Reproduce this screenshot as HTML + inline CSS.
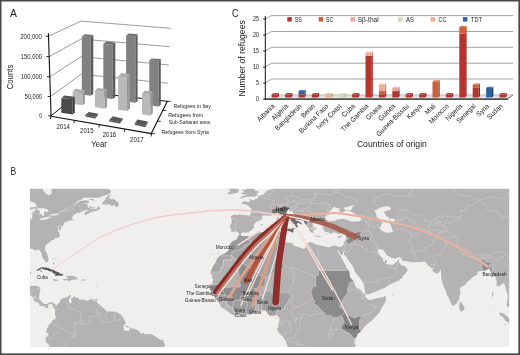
<!DOCTYPE html>
<html><head><meta charset="utf-8"><title>Figure</title>
<style>html,body{margin:0;padding:0;background:#fff;overflow:hidden}svg{display:block}</style>
</head><body>
<svg width="520" height="355" viewBox="0 0 520 355" font-family="'Liberation Sans', sans-serif">
<rect x="0" y="0" width="520" height="355" fill="#ffffff"/>
<defs>
<clipPath id="mapclip"><rect x="30.0" y="188.7" width="479.2" height="158.3"/></clipPath>
<clipPath id="landclip">
<polygon points="273.0,188.8 273.0,172.6 524.0,172.6 524.0,306.2 509.4,308.0 507.6,306.5 506.8,306.0 506.7,303.7 507.3,301.1 507.6,298.5 507.9,296.0 507.5,294.4 506.3,290.8 505.5,287.7 505.0,284.4 503.5,283.1 503.0,283.4 501.7,284.4 499.1,286.3 497.3,286.1 496.3,285.7 496.8,281.8 496.0,278.5 494.5,275.9 493.0,275.0 490.6,271.8 490.1,269.5 488.6,268.5 487.6,269.2 486.0,270.3 484.2,270.8 482.4,271.3 480.9,271.0 479.8,271.0 477.8,271.8 477.3,273.9 477.0,274.8 474.8,275.9 472.4,277.3 470.3,279.5 468.3,281.3 465.7,283.2 465.7,284.4 462.9,285.9 460.6,287.2 459.9,289.3 460.6,293.1 460.1,294.7 459.4,296.2 459.4,300.3 458.0,300.3 457.1,302.6 458.0,303.0 457.0,303.3 455.2,304.3 454.4,305.5 453.5,306.0 451.8,305.0 450.8,303.2 450.2,301.2 448.9,297.9 447.5,296.0 446.6,293.6 445.7,290.8 443.9,287.2 442.6,283.1 441.7,279.8 441.4,278.1 441.0,275.4 441.4,273.3 440.8,272.6 441.0,271.0 440.5,269.6 439.8,270.9 438.5,272.8 436.7,273.6 435.0,273.1 433.1,271.2 431.4,269.6 433.1,269.2 434.9,267.8 432.4,268.2 430.2,266.9 429.5,265.9 427.7,265.4 426.9,263.8 426.3,263.1 425.1,261.5 422.5,261.8 420.2,262.0 417.4,261.9 414.3,262.3 412.3,262.3 409.9,261.8 407.1,261.5 405.3,261.1 402.7,260.9 401.5,259.2 400.7,257.4 398.9,257.0 397.1,257.9 395.3,258.6 391.7,257.9 389.4,256.4 386.6,255.2 384.9,252.4 383.2,249.7 381.7,249.4 379.9,248.8 378.6,249.8 377.4,251.1 378.1,252.5 378.8,253.8 379.7,255.6 381.8,257.4 383.0,258.8 383.2,261.0 384.1,262.0 384.8,263.2 384.6,261.3 385.1,260.0 385.9,259.6 386.8,260.8 386.8,262.8 386.0,263.7 386.8,264.6 389.4,264.6 392.0,264.9 394.0,264.0 396.3,261.9 398.0,260.5 398.6,259.3 399.3,259.2 399.0,262.3 400.0,264.2 402.2,265.6 404.7,266.1 406.3,268.2 407.9,269.0 406.9,271.3 404.8,274.4 402.7,275.7 402.5,278.1 400.2,279.0 398.9,280.7 396.3,281.6 393.2,283.1 390.7,284.0 388.4,285.2 385.3,287.5 380.4,289.5 377.6,290.8 375.0,292.1 371.4,292.9 369.8,293.9 367.3,294.3 365.9,294.3 365.4,292.6 364.7,290.8 364.6,288.8 363.9,284.7 363.6,283.4 361.6,280.5 359.8,277.7 357.5,274.9 354.8,271.5 354.2,269.0 352.0,264.9 349.8,262.3 347.9,259.3 345.7,256.1 343.9,254.7 344.1,251.0 343.9,251.0 342.7,254.1 342.2,255.6 340.6,254.3 339.4,252.5 338.0,249.8 337.3,250.7 338.1,252.4 339.3,253.9 341.2,256.9 341.5,258.1 342.4,259.7 343.9,262.4 345.4,265.1 346.2,265.4 345.7,267.2 348.4,269.7 349.3,272.3 349.9,276.4 350.2,277.7 351.9,279.5 353.4,280.5 354.7,284.4 355.6,286.7 356.5,287.5 357.3,288.0 359.3,289.0 361.1,290.8 363.2,292.9 364.1,293.4 365.5,294.8 365.6,296.1 363.7,297.1 365.1,297.0 366.0,297.6 367.8,299.6 369.8,299.9 373.7,299.2 376.3,298.3 378.1,298.1 380.6,297.8 383.5,297.0 384.6,296.0 386.0,296.4 385.5,298.5 386.3,299.9 385.0,302.4 383.7,304.7 382.3,306.4 380.9,309.3 379.0,313.1 377.0,315.2 375.5,316.5 372.9,319.6 370.7,321.5 369.2,322.4 366.3,325.0 363.6,327.7 361.9,329.9 361.1,331.0 359.3,332.7 357.5,333.7 357.3,335.0 356.1,337.2 354.9,338.9 354.7,339.9 354.2,341.7 354.0,343.4 355.2,344.3 355.7,347.1 356.0,352.5 288.4,352.5 287.9,347.0 287.2,345.4 285.9,342.5 285.6,341.1 284.7,339.1 283.0,337.1 281.6,335.5 278.9,333.0 277.8,330.9 276.7,328.6 278.1,327.8 278.5,325.8 278.2,324.2 279.3,322.0 279.6,319.2 278.7,316.8 277.8,316.5 277.1,315.2 275.5,315.1 273.7,315.4 272.2,315.6 270.3,315.7 268.6,314.7 267.3,312.7 265.8,310.6 262.9,310.3 260.5,310.5 257.4,311.0 256.6,311.9 253.7,312.5 251.0,313.7 249.7,314.2 248.8,314.6 246.2,313.7 243.9,313.3 241.3,313.6 238.5,314.1 237.1,314.6 235.3,315.4 234.4,315.6 230.9,313.9 228.4,311.7 226.4,310.6 225.0,309.5 222.1,307.8 220.9,306.5 220.1,305.0 220.0,303.7 219.0,302.4 217.1,300.6 216.2,299.0 215.5,298.5 214.1,296.3 212.3,296.1 211.3,295.1 211.2,293.6 211.5,292.2 211.2,291.1 210.9,290.4 210.1,289.3 209.2,289.0 210.3,288.4 211.0,286.7 211.8,285.7 212.3,283.1 213.1,280.3 211.8,276.9 212.4,274.9 210.8,273.9 210.4,273.3 210.6,272.1 212.1,269.0 213.2,265.9 215.6,262.8 216.9,259.6 219.5,256.1 220.9,255.0 224.6,253.8 228.0,251.2 229.4,248.7 228.8,248.1 229.0,245.8 230.4,243.8 232.4,241.3 234.7,240.4 236.6,239.4 238.4,236.3 239.0,234.8 240.6,234.5 240.8,235.6 242.6,236.3 244.2,236.2 246.6,236.1 248.5,236.6 250.9,236.1 252.5,235.1 254.5,234.4 257.5,233.0 260.1,232.6 262.0,232.3 264.2,232.0 267.3,232.4 269.0,232.1 270.8,231.5 271.9,232.0 274.1,232.0 276.7,231.8 279.5,230.9 280.7,232.1 282.6,231.5 281.4,233.3 281.6,234.7 282.6,235.6 281.8,237.5 280.2,239.7 282.2,240.4 282.7,241.0 283.9,241.6 286.1,242.4 288.1,242.2 291.0,243.1 293.0,243.5 293.8,245.8 296.9,246.6 300.5,247.8 303.5,249.1 305.6,247.6 305.7,244.3 307.9,242.8 310.0,242.2 312.4,242.6 313.8,243.8 315.9,244.4 318.7,245.2 320.8,245.6 324.2,246.2 328.6,247.6 331.0,246.6 332.3,246.0 334.1,245.6 336.1,245.8 337.2,246.4 339.0,246.9 341.1,246.7 342.7,245.8 343.5,244.4 344.1,242.5 344.7,241.3 345.4,239.7 346.3,238.3 346.4,237.1 346.2,235.5 346.6,234.1 347.2,232.7 346.7,232.0 345.4,232.7 343.1,232.2 341.5,233.5 338.6,234.2 336.4,232.9 333.1,232.0 332.7,233.3 331.7,233.6 330.4,233.8 329.0,232.7 326.9,232.1 324.7,231.6 324.2,230.8 324.2,229.5 321.8,228.4 323.6,228.0 323.2,227.5 323.3,226.4 322.8,225.8 323.5,225.1 321.2,225.3 321.5,224.0 321.5,223.8 323.2,222.5 321.1,222.1 320.7,221.8 318.4,221.6 316.9,221.6 315.2,222.1 316.9,223.7 315.6,223.1 315.8,224.1 314.6,223.4 314.3,224.1 313.3,223.1 313.1,222.4 312.3,223.0 312.4,224.0 313.2,225.4 314.1,226.2 313.2,225.8 312.8,226.6 312.2,226.9 314.1,227.7 315.1,228.4 315.9,228.8 316.0,230.0 314.9,229.3 313.3,229.3 313.8,230.2 314.5,230.8 312.8,230.2 313.1,231.7 313.8,233.2 312.2,232.4 312.0,233.3 311.0,231.7 310.4,232.4 309.9,231.1 308.7,229.5 309.2,228.6 310.2,228.4 311.8,228.6 313.2,229.2 313.1,228.6 311.8,228.1 310.2,228.2 309.3,228.2 308.4,227.8 307.5,226.7 306.6,225.9 306.1,225.0 305.6,224.3 304.3,222.8 304.1,221.7 304.2,220.6 304.5,219.4 303.5,219.1 301.9,217.8 300.7,217.2 298.9,216.3 296.4,215.0 295.1,214.4 293.3,213.4 292.5,211.9 292.5,211.2 291.3,210.3 290.7,210.9 289.9,211.7 289.2,210.9 288.9,209.9 289.6,209.5 289.0,209.1 287.9,209.4 285.9,210.0 285.8,210.6 286.5,211.3 285.8,212.6 286.5,213.5 288.9,214.7 289.8,216.3 290.7,217.7 292.8,218.9 294.3,219.0 295.8,219.2 295.1,219.8 296.0,220.6 297.6,221.1 300.3,222.3 301.7,223.6 301.4,224.5 300.4,223.9 299.4,223.2 298.5,222.8 297.4,223.1 296.6,224.7 298.4,226.5 296.9,227.0 296.8,228.0 295.4,229.3 294.4,228.9 294.9,227.5 295.9,226.8 295.4,225.7 294.8,224.5 294.4,223.8 293.5,223.9 292.7,223.1 292.2,222.3 291.0,222.5 290.8,221.9 289.1,220.9 287.7,220.8 286.6,220.3 285.6,219.5 284.5,218.6 282.7,217.9 281.2,216.5 280.7,214.9 279.5,213.5 277.2,212.7 276.0,212.9 274.8,214.0 273.7,214.3 272.9,214.5 271.3,215.6 269.4,216.0 268.0,215.5 266.3,215.4 263.7,215.3 262.2,216.0 262.0,217.1 262.7,218.0 262.4,219.1 259.8,220.5 257.4,221.2 256.4,222.1 254.2,224.1 253.4,225.4 254.8,227.3 253.0,228.3 252.4,230.1 250.1,230.7 248.5,232.4 245.2,232.4 242.8,232.4 241.7,233.0 240.5,233.9 239.8,234.3 238.0,232.9 237.8,232.2 236.3,231.2 233.8,231.7 231.1,231.7 231.4,229.3 230.5,228.1 229.8,227.1 230.1,225.6 231.4,223.6 231.9,221.0 231.5,219.6 231.5,218.3 230.4,216.5 232.6,215.3 234.5,214.3 236.1,214.9 239.2,214.6 241.9,215.1 244.4,215.1 246.4,215.3 249.1,215.5 250.2,215.1 251.0,212.0 251.1,209.9 251.2,208.2 249.6,207.3 248.5,206.0 248.0,205.2 246.2,204.7 245.5,204.2 243.0,204.0 242.0,203.4 241.9,202.6 243.9,201.6 245.3,201.3 247.2,202.1 249.1,201.8 250.3,201.8 250.1,201.3 249.2,199.0 250.9,199.1 251.4,199.9 253.6,200.2 254.5,199.6 257.0,198.5 258.3,197.8 258.3,196.4 258.3,196.1 259.0,195.8 260.3,195.6 261.7,195.1 262.9,194.7 264.5,194.6 263.7,193.8 264.8,193.2 265.9,192.0 266.4,190.7 267.3,191.2 268.1,190.1 270.1,189.5 271.8,189.4 272.4,189.7 272.6,189.0"/>
<polygon points="228.8,188.8 228.8,182.9 238.3,182.9 238.3,188.8 238.5,189.7 238.8,190.7 237.8,192.7 234.9,193.2 232.9,193.7 229.0,194.6 227.6,193.4 227.3,192.9 229.3,192.4 228.7,191.7 231.1,191.5 229.8,190.6 230.9,189.9 228.0,189.6"/>
<polygon points="246.5,188.8 246.5,182.9 253.7,182.9 253.7,188.8 254.5,189.1 255.1,190.2 254.4,190.8 255.1,191.1 255.5,190.7 257.5,190.8 258.7,191.9 257.5,193.3 256.5,193.8 256.0,194.5 257.9,194.8 257.7,195.4 256.7,195.9 254.8,196.4 252.2,196.4 250.9,196.8 249.2,196.6 247.9,197.0 246.5,196.5 245.5,196.8 244.8,197.7 243.5,197.4 240.8,198.4 239.6,198.1 241.5,196.9 242.6,195.7 245.2,195.2 246.5,194.9 247.3,194.2 246.1,194.6 243.4,194.3 241.1,194.1 240.6,193.4 242.1,192.9 243.7,192.1 243.7,191.1 242.0,191.1 243.1,190.3 242.4,189.8 244.3,189.7 246.4,189.6"/>
<polygon points="286.3,229.1 288.5,228.8 290.2,229.1 293.3,228.6 294.2,228.6 293.5,229.5 293.0,230.4 293.5,231.5 293.1,232.5 292.4,232.4 290.8,231.5 289.0,231.0 287.8,230.4 286.5,230.0 286.1,229.7"/>
<polygon points="275.4,221.6 276.3,221.8 277.8,220.8 278.7,221.6 279.4,222.6 279.0,223.5 279.1,224.2 278.9,225.8 278.7,226.3 277.6,226.1 276.9,226.9 275.8,226.6 275.9,224.6 276.0,223.2 275.2,222.5"/>
<polygon points="278.4,216.3 278.5,217.1 278.7,218.6 278.1,219.9 277.8,220.5 276.8,219.8 276.4,219.1 276.3,218.2 276.7,217.4 278.1,217.1 278.2,216.4"/>
<polygon points="314.8,235.3 315.9,235.5 317.1,235.9 318.8,236.0 320.3,236.3 321.3,236.3 321.8,236.1 321.7,236.6 320.3,236.9 317.8,237.0 315.1,236.3 314.6,236.2"/>
<polygon points="337.1,236.6 339.8,236.0 343.1,235.1 341.5,236.5 341.8,237.0 340.6,237.1 339.0,238.0 337.5,237.5"/>
<polygon points="260.2,225.0 262.2,224.1 263.1,224.8 262.2,225.8 261.1,225.3 260.4,225.3"/>
<polygon points="460.3,301.5 462.9,304.8 464.2,307.0 464.6,309.1 462.7,311.1 461.3,311.6 460.4,311.3 459.4,309.0 459.3,306.2 459.5,303.7 459.8,301.9"/>
<polygon points="499.1,312.5 503.9,313.4 506.1,315.5 507.9,317.0 509.7,318.6 524.0,326.8 524.0,342.2 521.5,341.7 517.1,337.1 513.5,332.5 512.0,329.1 510.2,326.3 508.1,322.3 505.5,320.9 503.2,317.5 501.2,316.1 499.4,314.2"/>
<polygon points="391.2,294.5 394.3,294.4 394.0,295.1 391.7,295.2"/>
<polygon points="492.4,291.8 493.3,292.4 493.2,296.0 492.6,297.2 492.2,295.4"/>
<polygon points="491.7,298.8 492.2,299.0 492.1,299.8 491.5,299.7"/>
<polygon points="495.0,308.3 495.7,308.8 495.4,309.5 494.9,309.1"/>
<polygon points="503.7,323.2 505.8,324.5 505.3,325.3 503.7,324.0"/>
<polygon points="500.4,319.6 501.9,320.4 501.7,320.8 500.3,319.9"/>
<polygon points="354.9,341.6 355.8,342.5 355.5,343.4 354.9,342.7"/>
<polygon points="356.1,339.4 356.6,340.2 356.2,340.8"/>
<polygon points="276.3,317.2 277.2,317.5 276.6,318.4 275.9,317.9"/>
<polygon points="313.3,226.7 314.9,227.2 316.4,228.6 317.4,229.1 316.1,227.6 314.3,226.6"/>
<polygon points="320.8,225.8 322.3,225.7 322.4,226.4 321.0,226.3"/>
<polygon points="320.8,227.7 321.4,227.9 321.3,228.6 320.8,228.5"/>
<polygon points="325.5,233.9 326.7,233.1 326.4,234.2 325.6,234.5"/>
<polygon points="10.1,172.6 42.7,172.6 42.7,185.5 42.9,189.3 43.5,191.1 45.3,192.9 47.1,194.4 49.1,195.2 50.7,194.2 51.7,192.4 51.4,189.3 51.2,185.5 51.2,172.6 108.2,172.6 107.7,188.0 108.0,188.8 110.5,190.6 110.8,192.4 108.7,194.2 107.5,194.7 103.3,195.7 100.0,197.5 95.4,197.8 89.7,197.5 83.6,197.8 81.0,200.1 78.9,200.4 75.1,203.2 72.8,205.5 71.2,206.5 73.5,205.2 75.6,203.7 78.2,202.3 80.7,201.1 85.9,200.2 89.2,201.3 88.9,202.4 87.2,203.3 83.6,203.4 85.6,204.3 87.9,204.0 87.2,205.8 88.4,208.1 90.2,208.3 92.3,209.2 94.9,208.8 96.4,209.5 96.7,208.1 98.5,206.3 99.1,206.0 99.7,208.1 100.4,208.7 97.4,210.4 93.6,211.4 90.7,212.2 88.4,213.5 85.6,215.3 84.3,214.2 85.1,212.2 87.4,210.9 88.9,210.3 87.4,209.7 84.3,210.5 82.0,211.4 78.9,212.9 77.4,212.7 75.6,214.0 73.8,214.6 72.5,216.3 72.8,217.2 71.7,218.0 72.6,219.0 73.0,219.5 74.3,219.4 73.8,218.7 74.4,219.1 74.4,219.7 72.8,220.0 71.5,220.1 70.4,220.5 68.9,220.7 66.8,220.8 65.0,221.4 67.1,221.6 69.5,221.3 67.6,221.9 65.3,222.5 64.0,222.5 64.0,222.8 63.8,224.5 63.0,225.7 61.6,226.7 60.7,225.8 60.0,225.2 60.4,226.3 61.2,227.1 61.3,228.4 60.6,229.4 59.7,230.4 59.0,231.5 58.9,229.4 58.5,227.6 58.6,225.8 58.9,225.2 57.6,226.1 57.7,227.9 58.1,229.1 58.0,230.7 58.1,231.7 58.9,232.0 59.5,233.8 60.2,236.2 58.9,237.1 57.6,237.9 55.5,238.1 53.9,239.8 51.4,240.2 50.4,241.7 48.9,242.8 47.3,243.8 46.3,244.6 45.3,246.6 45.0,248.9 45.5,250.7 47.2,253.7 47.8,256.1 48.5,258.2 48.3,260.5 47.6,262.0 45.8,262.3 44.0,259.7 42.9,257.9 41.7,255.6 41.4,252.5 40.8,252.0 39.6,250.2 38.3,249.4 36.8,250.2 34.9,250.5 34.0,249.4 31.9,248.7 30.1,248.8 28.0,248.9 10.1,249.7"/>
<polygon points="111.6,194.2 108.2,195.7 106.7,197.0 105.4,199.1 104.4,200.6 102.6,202.2 101.8,204.5 106.4,204.5 110.3,204.6 111.8,206.3 112.8,205.2 114.9,204.5 114.9,206.5 116.4,206.9 117.7,206.9 118.8,204.6 117.7,201.6 115.7,201.9 116.4,200.4 114.9,199.8 113.4,199.1 110.8,199.6 110.0,198.3 108.5,198.8 109.5,197.0 109.8,196.0 111.3,195.0"/>
<polygon points="88.4,198.7 92.5,199.1 95.6,200.6 93.3,200.6 90.0,199.8"/>
<polygon points="88.7,206.9 89.7,206.0 91.8,207.3 94.9,207.4 93.6,208.6 91.0,208.2"/>
<polygon points="10.1,285.7 27.5,285.7 28.6,285.9 30.1,286.2 33.2,285.8 35.8,285.8 37.8,286.2 39.6,287.5 40.5,288.2 39.9,290.8 39.5,293.4 39.0,296.0 39.1,298.8 40.9,301.1 42.9,302.9 44.5,304.1 46.0,304.2 47.6,303.4 48.9,302.8 51.2,302.3 53.7,302.9 55.3,304.6 56.6,306.2 57.3,304.4 58.9,302.9 59.9,302.1 60.2,300.1 62.0,298.4 63.5,297.9 65.8,297.8 66.8,297.1 68.6,296.1 70.1,294.8 71.2,295.2 71.0,296.5 69.3,298.3 70.2,298.7 68.9,301.1 70.2,303.4 71.7,301.9 71.0,299.3 72.2,298.0 73.8,297.2 74.3,295.4 74.9,297.2 78.2,298.0 79.4,299.8 82.3,299.6 84.5,299.6 86.6,300.8 87.9,300.7 89.2,299.9 90.0,299.4 93.1,299.3 95.1,299.2 93.3,300.3 94.3,301.1 97.4,302.1 97.7,303.7 100.0,305.0 100.5,305.5 103.6,308.0 104.8,309.3 107.2,311.4 110.3,311.6 112.3,311.5 115.4,311.8 118.0,312.8 119.8,314.1 121.8,315.7 123.1,317.8 124.9,321.1 125.8,322.9 124.4,325.0 123.0,326.7 124.2,328.1 123.6,329.4 125.7,330.9 128.3,330.7 129.6,330.5 129.8,327.6 127.0,327.2 124.9,326.5 125.7,325.5 129.8,327.3 130.8,328.6 133.4,328.6 136.0,329.6 138.6,330.7 139.8,332.2 140.3,333.7 142.7,333.0 145.0,333.9 146.9,334.3 150.1,334.0 152.7,334.8 155.3,336.4 158.3,338.6 160.4,339.8 163.1,339.9 163.7,341.7 164.4,343.5 164.8,345.0 164.6,347.5 164.2,352.5 51.2,352.5 50.1,347.1 48.7,344.5 46.4,342.2 45.6,341.7 45.8,339.9 45.2,338.8 46.3,337.1 47.3,335.8 48.3,335.3 48.9,333.2 47.8,333.5 46.0,332.5 46.8,329.2 47.3,327.7 48.5,326.5 48.6,325.0 49.5,324.3 51.7,322.2 52.7,320.1 55.0,319.3 56.1,316.8 55.2,315.5 54.9,312.7 55.3,310.1 54.0,308.3 52.7,306.1 53.0,305.2 51.2,303.8 49.9,303.8 47.6,305.7 48.6,307.5 47.6,308.3 45.9,308.3 45.5,307.0 44.2,306.2 42.9,305.7 41.1,306.2 39.1,305.2 39.6,304.3 37.9,302.6 36.3,301.4 35.5,302.3 33.6,300.3 34.0,298.8 33.4,297.9 31.6,296.2 30.1,294.7 29.1,293.6 10.1,292.1"/>
<polygon points="10.1,269.0 21.9,272.6 25.5,271.8 29.3,271.4 30.9,271.8 31.3,272.4 30.4,273.9 29.5,274.9 29.3,276.7 28.7,279.5 27.8,279.5 27.3,281.6 27.3,284.4 25.7,285.9 10.1,287.0"/>
<polygon points="35.9,270.6 37.5,269.4 40.4,267.8 42.4,267.3 44.6,267.6 47.3,267.8 49.4,268.6 50.4,269.2 53.0,269.5 54.8,270.8 55.8,271.2 58.9,272.4 59.9,273.5 62.0,273.9 63.6,274.8 63.2,275.3 61.1,275.7 59.3,275.5 56.6,275.7 54.4,275.8 55.8,274.4 54.0,273.6 52.5,272.8 51.9,271.4 49.9,271.2 48.6,270.9 47.4,270.1 45.5,270.0 43.5,269.2 41.4,268.6 39.9,269.7 38.3,270.5"/>
<polygon points="40.6,270.8 41.9,270.5 42.0,271.4 40.9,271.7"/>
<polygon points="52.8,279.6 54.0,279.3 56.6,279.5 58.4,280.5 56.6,280.9 55.8,281.3 53.7,280.5"/>
<polygon points="62.9,279.6 64.5,280.4 67.1,280.2 69.9,281.2 71.5,280.0 74.3,279.5 76.9,279.5 78.5,279.0 76.9,278.0 76.4,277.2 74.6,276.3 72.5,275.9 69.9,275.7 68.6,276.0 65.6,275.8 67.1,277.2 68.3,279.1 65.3,279.1 63.0,278.9"/>
<polygon points="81.5,279.3 85.5,279.4 85.1,280.5 81.5,280.7"/>
<polygon points="95.1,299.3 97.6,299.0 97.4,300.7 95.1,301.0"/>
</clipPath>
</defs>
<g clip-path="url(#mapclip)">
<rect x="30.0" y="188.7" width="479.2" height="158.3" fill="#f1eeee"/>
<polygon points="273.0,188.8 273.0,172.6 524.0,172.6 524.0,306.2 509.4,308.0 507.6,306.5 506.8,306.0 506.7,303.7 507.3,301.1 507.6,298.5 507.9,296.0 507.5,294.4 506.3,290.8 505.5,287.7 505.0,284.4 503.5,283.1 503.0,283.4 501.7,284.4 499.1,286.3 497.3,286.1 496.3,285.7 496.8,281.8 496.0,278.5 494.5,275.9 493.0,275.0 490.6,271.8 490.1,269.5 488.6,268.5 487.6,269.2 486.0,270.3 484.2,270.8 482.4,271.3 480.9,271.0 479.8,271.0 477.8,271.8 477.3,273.9 477.0,274.8 474.8,275.9 472.4,277.3 470.3,279.5 468.3,281.3 465.7,283.2 465.7,284.4 462.9,285.9 460.6,287.2 459.9,289.3 460.6,293.1 460.1,294.7 459.4,296.2 459.4,300.3 458.0,300.3 457.1,302.6 458.0,303.0 457.0,303.3 455.2,304.3 454.4,305.5 453.5,306.0 451.8,305.0 450.8,303.2 450.2,301.2 448.9,297.9 447.5,296.0 446.6,293.6 445.7,290.8 443.9,287.2 442.6,283.1 441.7,279.8 441.4,278.1 441.0,275.4 441.4,273.3 440.8,272.6 441.0,271.0 440.5,269.6 439.8,270.9 438.5,272.8 436.7,273.6 435.0,273.1 433.1,271.2 431.4,269.6 433.1,269.2 434.9,267.8 432.4,268.2 430.2,266.9 429.5,265.9 427.7,265.4 426.9,263.8 426.3,263.1 425.1,261.5 422.5,261.8 420.2,262.0 417.4,261.9 414.3,262.3 412.3,262.3 409.9,261.8 407.1,261.5 405.3,261.1 402.7,260.9 401.5,259.2 400.7,257.4 398.9,257.0 397.1,257.9 395.3,258.6 391.7,257.9 389.4,256.4 386.6,255.2 384.9,252.4 383.2,249.7 381.7,249.4 379.9,248.8 378.6,249.8 377.4,251.1 378.1,252.5 378.8,253.8 379.7,255.6 381.8,257.4 383.0,258.8 383.2,261.0 384.1,262.0 384.8,263.2 384.6,261.3 385.1,260.0 385.9,259.6 386.8,260.8 386.8,262.8 386.0,263.7 386.8,264.6 389.4,264.6 392.0,264.9 394.0,264.0 396.3,261.9 398.0,260.5 398.6,259.3 399.3,259.2 399.0,262.3 400.0,264.2 402.2,265.6 404.7,266.1 406.3,268.2 407.9,269.0 406.9,271.3 404.8,274.4 402.7,275.7 402.5,278.1 400.2,279.0 398.9,280.7 396.3,281.6 393.2,283.1 390.7,284.0 388.4,285.2 385.3,287.5 380.4,289.5 377.6,290.8 375.0,292.1 371.4,292.9 369.8,293.9 367.3,294.3 365.9,294.3 365.4,292.6 364.7,290.8 364.6,288.8 363.9,284.7 363.6,283.4 361.6,280.5 359.8,277.7 357.5,274.9 354.8,271.5 354.2,269.0 352.0,264.9 349.8,262.3 347.9,259.3 345.7,256.1 343.9,254.7 344.1,251.0 343.9,251.0 342.7,254.1 342.2,255.6 340.6,254.3 339.4,252.5 338.0,249.8 337.3,250.7 338.1,252.4 339.3,253.9 341.2,256.9 341.5,258.1 342.4,259.7 343.9,262.4 345.4,265.1 346.2,265.4 345.7,267.2 348.4,269.7 349.3,272.3 349.9,276.4 350.2,277.7 351.9,279.5 353.4,280.5 354.7,284.4 355.6,286.7 356.5,287.5 357.3,288.0 359.3,289.0 361.1,290.8 363.2,292.9 364.1,293.4 365.5,294.8 365.6,296.1 363.7,297.1 365.1,297.0 366.0,297.6 367.8,299.6 369.8,299.9 373.7,299.2 376.3,298.3 378.1,298.1 380.6,297.8 383.5,297.0 384.6,296.0 386.0,296.4 385.5,298.5 386.3,299.9 385.0,302.4 383.7,304.7 382.3,306.4 380.9,309.3 379.0,313.1 377.0,315.2 375.5,316.5 372.9,319.6 370.7,321.5 369.2,322.4 366.3,325.0 363.6,327.7 361.9,329.9 361.1,331.0 359.3,332.7 357.5,333.7 357.3,335.0 356.1,337.2 354.9,338.9 354.7,339.9 354.2,341.7 354.0,343.4 355.2,344.3 355.7,347.1 356.0,352.5 288.4,352.5 287.9,347.0 287.2,345.4 285.9,342.5 285.6,341.1 284.7,339.1 283.0,337.1 281.6,335.5 278.9,333.0 277.8,330.9 276.7,328.6 278.1,327.8 278.5,325.8 278.2,324.2 279.3,322.0 279.6,319.2 278.7,316.8 277.8,316.5 277.1,315.2 275.5,315.1 273.7,315.4 272.2,315.6 270.3,315.7 268.6,314.7 267.3,312.7 265.8,310.6 262.9,310.3 260.5,310.5 257.4,311.0 256.6,311.9 253.7,312.5 251.0,313.7 249.7,314.2 248.8,314.6 246.2,313.7 243.9,313.3 241.3,313.6 238.5,314.1 237.1,314.6 235.3,315.4 234.4,315.6 230.9,313.9 228.4,311.7 226.4,310.6 225.0,309.5 222.1,307.8 220.9,306.5 220.1,305.0 220.0,303.7 219.0,302.4 217.1,300.6 216.2,299.0 215.5,298.5 214.1,296.3 212.3,296.1 211.3,295.1 211.2,293.6 211.5,292.2 211.2,291.1 210.9,290.4 210.1,289.3 209.2,289.0 210.3,288.4 211.0,286.7 211.8,285.7 212.3,283.1 213.1,280.3 211.8,276.9 212.4,274.9 210.8,273.9 210.4,273.3 210.6,272.1 212.1,269.0 213.2,265.9 215.6,262.8 216.9,259.6 219.5,256.1 220.9,255.0 224.6,253.8 228.0,251.2 229.4,248.7 228.8,248.1 229.0,245.8 230.4,243.8 232.4,241.3 234.7,240.4 236.6,239.4 238.4,236.3 239.0,234.8 240.6,234.5 240.8,235.6 242.6,236.3 244.2,236.2 246.6,236.1 248.5,236.6 250.9,236.1 252.5,235.1 254.5,234.4 257.5,233.0 260.1,232.6 262.0,232.3 264.2,232.0 267.3,232.4 269.0,232.1 270.8,231.5 271.9,232.0 274.1,232.0 276.7,231.8 279.5,230.9 280.7,232.1 282.6,231.5 281.4,233.3 281.6,234.7 282.6,235.6 281.8,237.5 280.2,239.7 282.2,240.4 282.7,241.0 283.9,241.6 286.1,242.4 288.1,242.2 291.0,243.1 293.0,243.5 293.8,245.8 296.9,246.6 300.5,247.8 303.5,249.1 305.6,247.6 305.7,244.3 307.9,242.8 310.0,242.2 312.4,242.6 313.8,243.8 315.9,244.4 318.7,245.2 320.8,245.6 324.2,246.2 328.6,247.6 331.0,246.6 332.3,246.0 334.1,245.6 336.1,245.8 337.2,246.4 339.0,246.9 341.1,246.7 342.7,245.8 343.5,244.4 344.1,242.5 344.7,241.3 345.4,239.7 346.3,238.3 346.4,237.1 346.2,235.5 346.6,234.1 347.2,232.7 346.7,232.0 345.4,232.7 343.1,232.2 341.5,233.5 338.6,234.2 336.4,232.9 333.1,232.0 332.7,233.3 331.7,233.6 330.4,233.8 329.0,232.7 326.9,232.1 324.7,231.6 324.2,230.8 324.2,229.5 321.8,228.4 323.6,228.0 323.2,227.5 323.3,226.4 322.8,225.8 323.5,225.1 321.2,225.3 321.5,224.0 321.5,223.8 323.2,222.5 321.1,222.1 320.7,221.8 318.4,221.6 316.9,221.6 315.2,222.1 316.9,223.7 315.6,223.1 315.8,224.1 314.6,223.4 314.3,224.1 313.3,223.1 313.1,222.4 312.3,223.0 312.4,224.0 313.2,225.4 314.1,226.2 313.2,225.8 312.8,226.6 312.2,226.9 314.1,227.7 315.1,228.4 315.9,228.8 316.0,230.0 314.9,229.3 313.3,229.3 313.8,230.2 314.5,230.8 312.8,230.2 313.1,231.7 313.8,233.2 312.2,232.4 312.0,233.3 311.0,231.7 310.4,232.4 309.9,231.1 308.7,229.5 309.2,228.6 310.2,228.4 311.8,228.6 313.2,229.2 313.1,228.6 311.8,228.1 310.2,228.2 309.3,228.2 308.4,227.8 307.5,226.7 306.6,225.9 306.1,225.0 305.6,224.3 304.3,222.8 304.1,221.7 304.2,220.6 304.5,219.4 303.5,219.1 301.9,217.8 300.7,217.2 298.9,216.3 296.4,215.0 295.1,214.4 293.3,213.4 292.5,211.9 292.5,211.2 291.3,210.3 290.7,210.9 289.9,211.7 289.2,210.9 288.9,209.9 289.6,209.5 289.0,209.1 287.9,209.4 285.9,210.0 285.8,210.6 286.5,211.3 285.8,212.6 286.5,213.5 288.9,214.7 289.8,216.3 290.7,217.7 292.8,218.9 294.3,219.0 295.8,219.2 295.1,219.8 296.0,220.6 297.6,221.1 300.3,222.3 301.7,223.6 301.4,224.5 300.4,223.9 299.4,223.2 298.5,222.8 297.4,223.1 296.6,224.7 298.4,226.5 296.9,227.0 296.8,228.0 295.4,229.3 294.4,228.9 294.9,227.5 295.9,226.8 295.4,225.7 294.8,224.5 294.4,223.8 293.5,223.9 292.7,223.1 292.2,222.3 291.0,222.5 290.8,221.9 289.1,220.9 287.7,220.8 286.6,220.3 285.6,219.5 284.5,218.6 282.7,217.9 281.2,216.5 280.7,214.9 279.5,213.5 277.2,212.7 276.0,212.9 274.8,214.0 273.7,214.3 272.9,214.5 271.3,215.6 269.4,216.0 268.0,215.5 266.3,215.4 263.7,215.3 262.2,216.0 262.0,217.1 262.7,218.0 262.4,219.1 259.8,220.5 257.4,221.2 256.4,222.1 254.2,224.1 253.4,225.4 254.8,227.3 253.0,228.3 252.4,230.1 250.1,230.7 248.5,232.4 245.2,232.4 242.8,232.4 241.7,233.0 240.5,233.9 239.8,234.3 238.0,232.9 237.8,232.2 236.3,231.2 233.8,231.7 231.1,231.7 231.4,229.3 230.5,228.1 229.8,227.1 230.1,225.6 231.4,223.6 231.9,221.0 231.5,219.6 231.5,218.3 230.4,216.5 232.6,215.3 234.5,214.3 236.1,214.9 239.2,214.6 241.9,215.1 244.4,215.1 246.4,215.3 249.1,215.5 250.2,215.1 251.0,212.0 251.1,209.9 251.2,208.2 249.6,207.3 248.5,206.0 248.0,205.2 246.2,204.7 245.5,204.2 243.0,204.0 242.0,203.4 241.9,202.6 243.9,201.6 245.3,201.3 247.2,202.1 249.1,201.8 250.3,201.8 250.1,201.3 249.2,199.0 250.9,199.1 251.4,199.9 253.6,200.2 254.5,199.6 257.0,198.5 258.3,197.8 258.3,196.4 258.3,196.1 259.0,195.8 260.3,195.6 261.7,195.1 262.9,194.7 264.5,194.6 263.7,193.8 264.8,193.2 265.9,192.0 266.4,190.7 267.3,191.2 268.1,190.1 270.1,189.5 271.8,189.4 272.4,189.7 272.6,189.0" fill="#b4b2b2" />
<polygon points="228.8,188.8 228.8,182.9 238.3,182.9 238.3,188.8 238.5,189.7 238.8,190.7 237.8,192.7 234.9,193.2 232.9,193.7 229.0,194.6 227.6,193.4 227.3,192.9 229.3,192.4 228.7,191.7 231.1,191.5 229.8,190.6 230.9,189.9 228.0,189.6" fill="#b4b2b2" />
<polygon points="246.5,188.8 246.5,182.9 253.7,182.9 253.7,188.8 254.5,189.1 255.1,190.2 254.4,190.8 255.1,191.1 255.5,190.7 257.5,190.8 258.7,191.9 257.5,193.3 256.5,193.8 256.0,194.5 257.9,194.8 257.7,195.4 256.7,195.9 254.8,196.4 252.2,196.4 250.9,196.8 249.2,196.6 247.9,197.0 246.5,196.5 245.5,196.8 244.8,197.7 243.5,197.4 240.8,198.4 239.6,198.1 241.5,196.9 242.6,195.7 245.2,195.2 246.5,194.9 247.3,194.2 246.1,194.6 243.4,194.3 241.1,194.1 240.6,193.4 242.1,192.9 243.7,192.1 243.7,191.1 242.0,191.1 243.1,190.3 242.4,189.8 244.3,189.7 246.4,189.6" fill="#b4b2b2" />
<polygon points="286.3,229.1 288.5,228.8 290.2,229.1 293.3,228.6 294.2,228.6 293.5,229.5 293.0,230.4 293.5,231.5 293.1,232.5 292.4,232.4 290.8,231.5 289.0,231.0 287.8,230.4 286.5,230.0 286.1,229.7" fill="#6f6f6f" />
<polygon points="275.4,221.6 276.3,221.8 277.8,220.8 278.7,221.6 279.4,222.6 279.0,223.5 279.1,224.2 278.9,225.8 278.7,226.3 277.6,226.1 276.9,226.9 275.8,226.6 275.9,224.6 276.0,223.2 275.2,222.5" fill="#6f6f6f" />
<polygon points="278.4,216.3 278.5,217.1 278.7,218.6 278.1,219.9 277.8,220.5 276.8,219.8 276.4,219.1 276.3,218.2 276.7,217.4 278.1,217.1 278.2,216.4" fill="#b4b2b2" />
<polygon points="314.8,235.3 315.9,235.5 317.1,235.9 318.8,236.0 320.3,236.3 321.3,236.3 321.8,236.1 321.7,236.6 320.3,236.9 317.8,237.0 315.1,236.3 314.6,236.2" fill="#b4b2b2" />
<polygon points="337.1,236.6 339.8,236.0 343.1,235.1 341.5,236.5 341.8,237.0 340.6,237.1 339.0,238.0 337.5,237.5" fill="#b4b2b2" />
<polygon points="260.2,225.0 262.2,224.1 263.1,224.8 262.2,225.8 261.1,225.3 260.4,225.3" fill="#b4b2b2" />
<polygon points="460.3,301.5 462.9,304.8 464.2,307.0 464.6,309.1 462.7,311.1 461.3,311.6 460.4,311.3 459.4,309.0 459.3,306.2 459.5,303.7 459.8,301.9" fill="#b4b2b2" />
<polygon points="499.1,312.5 503.9,313.4 506.1,315.5 507.9,317.0 509.7,318.6 524.0,326.8 524.0,342.2 521.5,341.7 517.1,337.1 513.5,332.5 512.0,329.1 510.2,326.3 508.1,322.3 505.5,320.9 503.2,317.5 501.2,316.1 499.4,314.2" fill="#b4b2b2" />
<polygon points="391.2,294.5 394.3,294.4 394.0,295.1 391.7,295.2" fill="#b4b2b2" />
<polygon points="492.4,291.8 493.3,292.4 493.2,296.0 492.6,297.2 492.2,295.4" fill="#b4b2b2" />
<polygon points="491.7,298.8 492.2,299.0 492.1,299.8 491.5,299.7" fill="#b4b2b2" />
<polygon points="495.0,308.3 495.7,308.8 495.4,309.5 494.9,309.1" fill="#b4b2b2" />
<polygon points="503.7,323.2 505.8,324.5 505.3,325.3 503.7,324.0" fill="#b4b2b2" />
<polygon points="500.4,319.6 501.9,320.4 501.7,320.8 500.3,319.9" fill="#b4b2b2" />
<polygon points="354.9,341.6 355.8,342.5 355.5,343.4 354.9,342.7" fill="#b4b2b2" />
<polygon points="356.1,339.4 356.6,340.2 356.2,340.8" fill="#b4b2b2" />
<polygon points="276.3,317.2 277.2,317.5 276.6,318.4 275.9,317.9" fill="#b4b2b2" />
<polygon points="313.3,226.7 314.9,227.2 316.4,228.6 317.4,229.1 316.1,227.6 314.3,226.6" fill="#b4b2b2" />
<polygon points="320.8,225.8 322.3,225.7 322.4,226.4 321.0,226.3" fill="#b4b2b2" />
<polygon points="320.8,227.7 321.4,227.9 321.3,228.6 320.8,228.5" fill="#b4b2b2" />
<polygon points="325.5,233.9 326.7,233.1 326.4,234.2 325.6,234.5" fill="#b4b2b2" />
<polygon points="10.1,172.6 42.7,172.6 42.7,185.5 42.9,189.3 43.5,191.1 45.3,192.9 47.1,194.4 49.1,195.2 50.7,194.2 51.7,192.4 51.4,189.3 51.2,185.5 51.2,172.6 108.2,172.6 107.7,188.0 108.0,188.8 110.5,190.6 110.8,192.4 108.7,194.2 107.5,194.7 103.3,195.7 100.0,197.5 95.4,197.8 89.7,197.5 83.6,197.8 81.0,200.1 78.9,200.4 75.1,203.2 72.8,205.5 71.2,206.5 73.5,205.2 75.6,203.7 78.2,202.3 80.7,201.1 85.9,200.2 89.2,201.3 88.9,202.4 87.2,203.3 83.6,203.4 85.6,204.3 87.9,204.0 87.2,205.8 88.4,208.1 90.2,208.3 92.3,209.2 94.9,208.8 96.4,209.5 96.7,208.1 98.5,206.3 99.1,206.0 99.7,208.1 100.4,208.7 97.4,210.4 93.6,211.4 90.7,212.2 88.4,213.5 85.6,215.3 84.3,214.2 85.1,212.2 87.4,210.9 88.9,210.3 87.4,209.7 84.3,210.5 82.0,211.4 78.9,212.9 77.4,212.7 75.6,214.0 73.8,214.6 72.5,216.3 72.8,217.2 71.7,218.0 72.6,219.0 73.0,219.5 74.3,219.4 73.8,218.7 74.4,219.1 74.4,219.7 72.8,220.0 71.5,220.1 70.4,220.5 68.9,220.7 66.8,220.8 65.0,221.4 67.1,221.6 69.5,221.3 67.6,221.9 65.3,222.5 64.0,222.5 64.0,222.8 63.8,224.5 63.0,225.7 61.6,226.7 60.7,225.8 60.0,225.2 60.4,226.3 61.2,227.1 61.3,228.4 60.6,229.4 59.7,230.4 59.0,231.5 58.9,229.4 58.5,227.6 58.6,225.8 58.9,225.2 57.6,226.1 57.7,227.9 58.1,229.1 58.0,230.7 58.1,231.7 58.9,232.0 59.5,233.8 60.2,236.2 58.9,237.1 57.6,237.9 55.5,238.1 53.9,239.8 51.4,240.2 50.4,241.7 48.9,242.8 47.3,243.8 46.3,244.6 45.3,246.6 45.0,248.9 45.5,250.7 47.2,253.7 47.8,256.1 48.5,258.2 48.3,260.5 47.6,262.0 45.8,262.3 44.0,259.7 42.9,257.9 41.7,255.6 41.4,252.5 40.8,252.0 39.6,250.2 38.3,249.4 36.8,250.2 34.9,250.5 34.0,249.4 31.9,248.7 30.1,248.8 28.0,248.9 10.1,249.7" fill="#b4b2b2" />
<polygon points="111.6,194.2 108.2,195.7 106.7,197.0 105.4,199.1 104.4,200.6 102.6,202.2 101.8,204.5 106.4,204.5 110.3,204.6 111.8,206.3 112.8,205.2 114.9,204.5 114.9,206.5 116.4,206.9 117.7,206.9 118.8,204.6 117.7,201.6 115.7,201.9 116.4,200.4 114.9,199.8 113.4,199.1 110.8,199.6 110.0,198.3 108.5,198.8 109.5,197.0 109.8,196.0 111.3,195.0" fill="#b4b2b2" />
<polygon points="88.4,198.7 92.5,199.1 95.6,200.6 93.3,200.6 90.0,199.8" fill="#b4b2b2" />
<polygon points="88.7,206.9 89.7,206.0 91.8,207.3 94.9,207.4 93.6,208.6 91.0,208.2" fill="#b4b2b2" />
<polygon points="10.1,285.7 27.5,285.7 28.6,285.9 30.1,286.2 33.2,285.8 35.8,285.8 37.8,286.2 39.6,287.5 40.5,288.2 39.9,290.8 39.5,293.4 39.0,296.0 39.1,298.8 40.9,301.1 42.9,302.9 44.5,304.1 46.0,304.2 47.6,303.4 48.9,302.8 51.2,302.3 53.7,302.9 55.3,304.6 56.6,306.2 57.3,304.4 58.9,302.9 59.9,302.1 60.2,300.1 62.0,298.4 63.5,297.9 65.8,297.8 66.8,297.1 68.6,296.1 70.1,294.8 71.2,295.2 71.0,296.5 69.3,298.3 70.2,298.7 68.9,301.1 70.2,303.4 71.7,301.9 71.0,299.3 72.2,298.0 73.8,297.2 74.3,295.4 74.9,297.2 78.2,298.0 79.4,299.8 82.3,299.6 84.5,299.6 86.6,300.8 87.9,300.7 89.2,299.9 90.0,299.4 93.1,299.3 95.1,299.2 93.3,300.3 94.3,301.1 97.4,302.1 97.7,303.7 100.0,305.0 100.5,305.5 103.6,308.0 104.8,309.3 107.2,311.4 110.3,311.6 112.3,311.5 115.4,311.8 118.0,312.8 119.8,314.1 121.8,315.7 123.1,317.8 124.9,321.1 125.8,322.9 124.4,325.0 123.0,326.7 124.2,328.1 123.6,329.4 125.7,330.9 128.3,330.7 129.6,330.5 129.8,327.6 127.0,327.2 124.9,326.5 125.7,325.5 129.8,327.3 130.8,328.6 133.4,328.6 136.0,329.6 138.6,330.7 139.8,332.2 140.3,333.7 142.7,333.0 145.0,333.9 146.9,334.3 150.1,334.0 152.7,334.8 155.3,336.4 158.3,338.6 160.4,339.8 163.1,339.9 163.7,341.7 164.4,343.5 164.8,345.0 164.6,347.5 164.2,352.5 51.2,352.5 50.1,347.1 48.7,344.5 46.4,342.2 45.6,341.7 45.8,339.9 45.2,338.8 46.3,337.1 47.3,335.8 48.3,335.3 48.9,333.2 47.8,333.5 46.0,332.5 46.8,329.2 47.3,327.7 48.5,326.5 48.6,325.0 49.5,324.3 51.7,322.2 52.7,320.1 55.0,319.3 56.1,316.8 55.2,315.5 54.9,312.7 55.3,310.1 54.0,308.3 52.7,306.1 53.0,305.2 51.2,303.8 49.9,303.8 47.6,305.7 48.6,307.5 47.6,308.3 45.9,308.3 45.5,307.0 44.2,306.2 42.9,305.7 41.1,306.2 39.1,305.2 39.6,304.3 37.9,302.6 36.3,301.4 35.5,302.3 33.6,300.3 34.0,298.8 33.4,297.9 31.6,296.2 30.1,294.7 29.1,293.6 10.1,292.1" fill="#b4b2b2" />
<polygon points="10.1,269.0 21.9,272.6 25.5,271.8 29.3,271.4 30.9,271.8 31.3,272.4 30.4,273.9 29.5,274.9 29.3,276.7 28.7,279.5 27.8,279.5 27.3,281.6 27.3,284.4 25.7,285.9 10.1,287.0" fill="#b4b2b2" />
<polygon points="35.9,270.6 37.5,269.4 40.4,267.8 42.4,267.3 44.6,267.6 47.3,267.8 49.4,268.6 50.4,269.2 53.0,269.5 54.8,270.8 55.8,271.2 58.9,272.4 59.9,273.5 62.0,273.9 63.6,274.8 63.2,275.3 61.1,275.7 59.3,275.5 56.6,275.7 54.4,275.8 55.8,274.4 54.0,273.6 52.5,272.8 51.9,271.4 49.9,271.2 48.6,270.9 47.4,270.1 45.5,270.0 43.5,269.2 41.4,268.6 39.9,269.7 38.3,270.5" fill="#585858" />
<polygon points="40.6,270.8 41.9,270.5 42.0,271.4 40.9,271.7" fill="#585858" />
<polygon points="52.8,279.6 54.0,279.3 56.6,279.5 58.4,280.5 56.6,280.9 55.8,281.3 53.7,280.5" fill="#b4b2b2" />
<polygon points="62.9,279.6 64.5,280.4 67.1,280.2 69.9,281.2 71.5,280.0 74.3,279.5 76.9,279.5 78.5,279.0 76.9,278.0 76.4,277.2 74.6,276.3 72.5,275.9 69.9,275.7 68.6,276.0 65.6,275.8 67.1,277.2 68.3,279.1 65.3,279.1 63.0,278.9" fill="#b4b2b2" />
<polygon points="81.5,279.3 85.5,279.4 85.1,280.5 81.5,280.7" fill="#b4b2b2" />
<polygon points="95.1,299.3 97.6,299.0 97.4,300.7 95.1,301.0" fill="#b4b2b2" />
<polygon points="210.8,253.9 212.7,253.4 211.9,254.7" fill="#b4b2b2" />
<polygon points="213.6,254.7 214.6,254.6 214.4,255.5" fill="#b4b2b2" />
<polygon points="217.3,253.0 218.6,253.2 217.4,254.6" fill="#b4b2b2" />
<polygon points="218.6,251.8 219.6,251.9 218.9,252.7" fill="#b4b2b2" />
<polygon points="207.9,252.8 208.6,252.9 208.3,253.6" fill="#b4b2b2" />
<polygon points="193.2,287.5 193.9,287.9 193.5,288.5" fill="#b4b2b2" />
<polygon points="189.2,282.9 189.9,282.9 189.7,283.4" fill="#b4b2b2" />
<polygon points="191.4,288.2 191.7,288.5 191.4,288.8" fill="#b4b2b2" />
<polygon points="195.2,285.2 195.9,285.4 195.3,285.8" fill="#b4b2b2" />
<polygon points="53.2,262.0 54.3,262.3 54.5,264.6 53.2,264.3" fill="#b4b2b2" />
<polygon points="51.4,258.2 54.0,258.1 53.7,258.6 51.4,258.6" fill="#b4b2b2" />
<polygon points="55.3,257.7 56.3,258.7 56.1,260.0 55.5,259.0" fill="#b4b2b2" />
<polygon points="57.1,261.3 58.1,262.0 58.5,263.3 57.6,262.3" fill="#b4b2b2" />
<polygon points="60.7,266.1 61.4,267.4 61.8,267.9 60.9,267.2" fill="#b4b2b2" />
<polygon points="64.8,272.6 66.3,272.4 66.1,273.0" fill="#b4b2b2" />
<polygon points="58.9,266.1 59.9,266.5 59.4,266.7" fill="#b4b2b2" />
<polygon points="62.7,264.9 63.0,265.2 62.6,265.2" fill="#b4b2b2" />
<polygon points="95.4,284.9 96.9,284.9 96.1,285.8" fill="#b4b2b2" />
<polygon points="96.9,288.6 97.8,289.3 97.3,289.8" fill="#b4b2b2" />
<polygon points="96.1,286.7 96.8,287.2 96.4,287.7" fill="#b4b2b2" />
<polygon points="97.3,290.6 97.7,291.5 97.3,291.5" fill="#b4b2b2" />
<polygon points="100.9,292.6 101.4,293.0 101.0,293.3" fill="#b4b2b2" />
<polygon points="87.4,279.6 88.2,279.6 87.8,279.9" fill="#b4b2b2" />
<polygon points="95.1,282.7 95.6,282.9 95.4,283.1" fill="#b4b2b2" />
<polygon points="95.5,295.4 95.9,295.8 95.5,296.0" fill="#b4b2b2" />
<polygon points="96.8,292.5 97.0,293.0 96.8,293.0" fill="#b4b2b2" />
<polygon points="76.5,294.9 77.5,295.7 77.0,295.7" fill="#b4b2b2" />
<polygon points="74.2,294.4 74.6,294.8 74.3,294.8" fill="#b4b2b2" />
<polygon points="88.7,298.4 90.2,298.1 90.1,298.8" fill="#b4b2b2" />
<g clip-path="url(#landclip)">
<polygon points="231.9,255.7 231.9,260.0 223.4,260.0 223.4,266.5 220.8,267.7 220.8,272.0 209.0,272.0 209.0,265.1 214.4,257.9 218.7,254.3 220.4,255.7" fill="#a6a6a6" stroke="#d9d9d9" stroke-width="0.45" stroke-linejoin="round"/>
<polygon points="239.0,233.5 248.6,235.1 248.6,236.4 249.6,238.1 249.8,239.6 250.6,242.3 251.3,242.9 250.8,243.9 247.5,244.3 246.3,245.3 244.8,245.5 244.7,247.4 241.7,248.4 240.7,249.7 238.6,250.4 236.1,250.8 231.9,252.7 231.9,255.7 220.4,255.7 218.2,253.6 225.9,250.2 226.4,247.1 228.0,242.5 233.6,238.4 236.5,235.3" fill="#9c9c9c" stroke="#d9d9d9" stroke-width="0.45" stroke-linejoin="round"/>
<polygon points="285.0,266.5 276.2,271.4 268.8,276.4 265.2,277.6 262.3,277.8 262.3,276.2 261.1,275.8 259.5,275.0 258.9,273.8 250.2,268.2 241.6,262.6 231.9,256.4 231.9,252.7 236.1,250.8 238.6,250.4 240.7,249.7 241.7,248.4 244.7,247.4 244.8,245.5 246.3,245.3 247.5,244.3 250.8,243.9 251.3,242.9 250.6,242.3 249.8,239.6 249.6,238.1 248.6,236.4 248.6,234.8 254.2,232.2 261.9,230.4 272.2,229.7 276.2,230.4 275.8,231.8 275.3,233.2 275.7,235.6 275.1,237.7 273.5,239.2 273.8,241.1 275.9,242.6 275.9,243.2 277.5,244.3 278.6,248.9 279.4,251.2 279.5,252.4 279.1,254.5 279.3,255.6 278.9,257.1 279.2,258.7 278.2,259.7 279.7,261.6 279.8,262.7 280.7,264.1 281.9,263.7 283.9,264.9" fill="#a3a3a3" stroke="#d9d9d9" stroke-width="0.45" stroke-linejoin="round"/>
<polygon points="222.9,289.2 223.8,288.8 224.2,287.2 225.0,287.2 226.8,287.9 228.3,287.4 229.3,287.6 229.7,287.0 240.0,287.0 240.5,285.2 240.1,284.8 238.9,273.8 237.6,262.7 241.6,262.6 250.2,268.2 258.9,273.8 259.5,275.0 261.1,275.8 262.3,276.2 262.3,277.8 265.2,277.6 265.2,283.5 263.8,285.2 263.6,286.8 261.3,287.2 257.8,287.4 256.8,288.3 255.2,288.4 253.5,288.5 252.9,287.9 251.5,288.3 249.1,289.4 248.6,290.2 246.6,291.3 246.2,292.0 245.2,292.5 243.9,292.2 243.2,292.8 242.8,294.6 240.8,296.7 240.8,297.6 240.1,298.7 240.3,300.1 239.2,300.5 238.7,300.8 238.2,299.8 237.5,300.0 237.1,300.0 236.6,300.7 234.6,300.7 233.9,300.3 233.6,300.6 232.8,299.8 232.9,299.1 232.6,298.8 232.0,299.0 232.1,298.2 232.7,297.5 231.6,296.4 231.3,295.7 230.7,295.2 230.2,295.1 229.6,295.5 228.8,295.8 228.1,296.4 227.0,296.2 226.3,295.5 225.8,295.4 225.2,295.8 224.7,295.8 224.6,294.8 224.7,294.0 224.5,293.0 223.5,292.3 223.1,290.8" fill="#8d8d8d" stroke="#d9d9d9" stroke-width="0.45" stroke-linejoin="round"/>
<polygon points="261.1,311.4 261.3,306.6 261.2,304.9 261.7,303.3 262.5,302.5 263.7,300.9 263.5,300.3 264.0,299.2 263.4,297.7 263.5,296.8 263.7,294.5 264.4,293.5 264.8,292.0 265.4,291.5 268.2,291.2 270.8,292.1 271.7,293.1 273.0,293.1 274.2,292.5 277.4,293.8 278.7,293.8 280.2,292.7 281.7,292.7 282.4,292.4 283.8,292.5 285.8,293.3 287.8,291.8 288.4,292.0 290.2,294.8 290.6,294.7 291.7,295.7 291.4,296.2 291.3,297.1 289.1,299.0 288.4,300.7 288.0,302.0 287.5,302.6 287.0,304.4 285.6,305.4 285.2,306.8 284.6,307.8 284.4,308.9 282.6,309.7 281.2,308.7 280.2,308.7 278.7,310.2 277.9,310.2 276.7,312.7 276.2,315.7 272.2,317.0 267.1,316.8 265.3,311.9 261.1,311.4" fill="#a0a0a0" stroke="#d9d9d9" stroke-width="0.45" stroke-linejoin="round"/>
<polygon points="318.4,270.3 318.4,275.4 315.9,275.4 315.9,286.5 313.3,286.5 312.3,288.5 311.5,290.0 312.0,290.6 311.3,291.3 310.7,294.4 311.5,294.3 312.0,295.2 312.0,296.7 313.1,297.5 313.1,298.5 313.3,299.3 314.7,300.8 314.6,303.7 315.4,304.4 317.2,305.7 318.7,306.8 319.2,308.0 321.5,310.0 322.3,311.5 324.1,312.5 324.6,313.4 326.2,315.5 328.0,315.4 329.2,315.5 330.5,315.0 333.4,317.8 334.4,317.0 336.4,317.5 339.0,316.8 341.6,315.9 343.1,314.3 344.9,312.7 343.4,309.8 341.8,308.3 339.0,306.8 339.8,305.3 341.1,305.2 341.6,304.4 341.8,302.4 342.4,299.6 343.4,298.8 343.9,297.8 344.9,295.7 347.0,294.4 347.5,291.8 347.7,289.8 347.5,288.8 348.6,284.9 349.8,282.3 351.6,282.1 352.9,280.5 355.7,280.5 352.4,274.1 350.8,270.3" fill="#8b8b8b" stroke="#d9d9d9" stroke-width="0.45" stroke-linejoin="round"/>
<polygon points="359.5,329.0 361.1,331.1 363.4,331.7 358.3,338.6 354.9,338.8 351.3,336.3 351.1,334.8 341.8,329.5 341.3,329.2 341.3,326.5 342.0,325.5 343.3,323.8 344.3,321.9 343.1,319.0 342.8,317.7 341.6,315.9 343.2,314.3 344.9,312.6 346.3,313.1 346.3,314.5 347.1,315.4 348.9,315.4 352.2,317.5 353.0,317.6 353.6,317.5 354.1,317.8 355.9,318.0 356.6,316.9 359.0,315.9 360.0,316.7 361.8,316.7 359.5,319.7" fill="#848484" stroke="#d9d9d9" stroke-width="0.45" stroke-linejoin="round"/>
<polygon points="344.9,234.7 347.1,234.7 347.8,234.2 348.5,233.6 348.6,232.2 349.5,232.7 352.3,232.0 353.7,232.5 355.8,232.4 358.7,231.5 360.1,231.5 363.0,231.1 361.7,232.7 360.3,233.4 360.5,235.2 359.6,238.3 353.9,241.0 348.9,243.8 346.0,242.7 346.3,242.3 346.3,241.3 346.9,239.9 348.3,238.9 347.9,237.9 346.7,237.8 344.9,237.8" fill="#8a8a8a" stroke="#d9d9d9" stroke-width="0.45" stroke-linejoin="round"/>
<polygon points="307.1,219.2 306.8,220.1 307.2,221.2 308.2,221.8 308.2,222.5 307.3,222.9 307.2,223.7 306.0,225.0 304.6,225.0 303.0,223.2 303.0,220.1 304.0,219.2 303.8,218.3 304.9,217.1 305.1,217.6 305.8,217.3 306.3,218.0 306.9,218.3" fill="#7a7a7a" stroke="#d9d9d9" stroke-width="0.45" stroke-linejoin="round"/>
<polygon points="492.4,270.2 492.3,272.0 491.4,271.6 491.6,273.7 490.6,274.1 489.4,271.5 486.8,272.1 482.9,272.1 483.0,270.1 482.6,268.0 481.7,266.1 482.2,264.5 480.6,263.8 481.2,262.9 482.8,261.9 480.9,260.6 481.8,258.8 483.9,260.0 485.1,260.1 485.3,261.9 487.7,262.2 490.1,262.2 491.6,262.6 490.4,264.8 489.3,264.9 488.5,266.4 489.9,267.7 490.3,266.1 491.0,266.1" fill="#8f8f8f" stroke="#d9d9d9" stroke-width="0.45" stroke-linejoin="round"/>
<polygon points="273.7,215.5 273.6,213.4 272.2,213.1 271.5,211.1 272.4,210.3 271.7,209.3 271.8,208.6 272.9,209.1 274.1,209.0 275.6,208.2 276.0,208.6 277.3,208.5 277.8,207.4 279.7,207.8 280.8,207.3 281.0,206.3 282.6,206.7 282.9,206.2 285.4,205.7 286.0,206.6 289.7,207.3 289.4,208.5 290.0,209.6 289.5,209.6 288.8,210.3 287.6,211.2 290.7,214.2 296.6,218.1 303.0,223.0 302.8,225.3 297.9,233.5 285.0,233.5 284.5,227.9 274.5,227.9 274.5,220.6 279.6,220.6 279.6,215.8" fill="#6f6f6f" stroke="#d9d9d9" stroke-width="0.45" stroke-linejoin="round"/>
<polygon points="211.3,291.9 208.5,290.8 208.2,288.2 210.8,284.9 212.8,284.5 214.1,284.7 215.3,284.2 216.7,284.1 218.0,284.9 219.7,285.6 221.2,287.5 222.9,289.2 223.1,290.8 223.5,292.3 224.5,293.0 224.7,294.0 224.6,294.8 224.2,295.0 222.8,294.8 222.6,295.1 222.1,295.1 220.2,294.5 219.0,294.4 214.2,294.3 213.5,294.6 212.7,294.5 211.3,295.0 209.7,294.9 209.7,293.0 210.9,293.0 213.3,293.1 213.9,292.7 214.3,292.7 215.3,292.1 216.4,292.6 217.5,292.7 218.6,292.1 218.1,291.4 217.2,291.8 216.4,291.8 215.4,291.1 214.6,291.2 214.1,291.8" fill="#858585" stroke="#d9d9d9" stroke-width="0.45" stroke-linejoin="round"/>
<polygon points="209.7,293.0 210.9,293.0 213.3,293.1 213.9,292.7 214.3,292.7 215.3,292.1 216.4,292.6 217.5,292.7 218.6,292.1 218.1,291.4 217.2,291.8 216.4,291.8 215.4,291.1 214.6,291.2 214.1,291.8 211.3,291.9 209.7,291.8" fill="#7a7a7a" stroke="#d9d9d9" stroke-width="0.45" stroke-linejoin="round"/>
<polygon points="215.3,298.4 214.4,299.6 210.5,298.5 210.5,295.0 211.3,295.0 212.7,294.5 213.5,294.6 214.2,294.3 219.0,294.4 218.9,295.3 218.7,295.6 218.9,296.4 218.5,296.8 217.9,296.8 217.2,297.2 216.4,297.2" fill="#8e8e8e" stroke="#d9d9d9" stroke-width="0.45" stroke-linejoin="round"/>
<polygon points="219.0,294.4 220.2,294.5 222.1,295.1 222.6,295.1 222.8,294.8 224.2,295.0 224.6,294.8 224.7,295.8 225.2,295.8 225.8,295.4 226.3,295.5 227.0,296.2 228.1,296.4 228.8,295.8 229.6,295.5 230.2,295.1 230.7,295.2 231.3,295.7 231.6,296.4 232.7,297.5 232.1,298.2 232.0,299.0 232.6,298.8 232.9,299.1 232.8,299.8 233.6,300.6 233.0,300.8 232.8,301.6 233.4,302.7 234.1,304.7 233.1,305.1 232.9,305.4 233.1,305.9 232.9,307.0 232.5,307.0 231.8,307.0 231.2,308.0 230.5,308.0 230.0,307.4 230.2,306.4 229.1,304.9 228.4,305.1 227.9,305.2 227.2,305.3 227.2,304.4 226.8,303.7 226.9,303.0 226.3,301.9 225.6,301.0 223.6,301.0 223.0,301.5 222.3,301.5 221.8,302.1 221.5,302.8 220.1,303.9 217.7,303.9 214.4,299.6 215.3,298.4 216.4,297.2 217.2,297.2 217.9,296.8 218.5,296.8 218.9,296.4 218.7,295.6 218.9,295.3" fill="#9d9d9d" stroke="#d9d9d9" stroke-width="0.45" stroke-linejoin="round"/>
<polygon points="246.9,302.0 245.2,301.4 244.0,301.5 243.1,302.1 241.9,301.6 241.5,300.7 240.3,300.1 240.1,298.7 240.8,297.6 240.8,296.7 242.8,294.6 243.2,292.8 243.9,292.2 245.2,292.5 246.2,292.0 246.6,291.3 248.6,290.2 249.1,289.4 251.5,288.3 252.9,287.9 253.5,288.5 255.2,288.4 255.0,289.7 255.3,290.8 256.7,292.5 256.8,293.8 259.8,294.3 259.7,296.1 259.2,296.9 257.9,297.1 257.4,298.2 256.5,298.5 254.3,298.5 253.1,298.3 252.2,298.7 251.1,298.5 246.6,298.6 246.6,300.1" fill="#8c8c8c" stroke="#d9d9d9" stroke-width="0.45" stroke-linejoin="round"/>
<polygon points="246.8,315.0 234.7,316.8 234.4,315.6 234.6,313.5 234.8,313.2 234.7,312.1 233.7,311.0 232.8,310.9 232.1,310.2 232.6,309.0 232.4,307.8 232.5,307.0 232.9,307.0 233.1,305.9 232.9,305.4 233.1,305.1 234.1,304.7 233.4,302.7 232.8,301.6 233.0,300.8 233.6,300.6 233.9,300.3 234.6,300.7 236.6,300.7 237.1,300.0 237.5,300.0 238.2,299.8 238.7,300.8 239.2,300.5 240.3,300.1 241.5,300.7 241.9,301.6 243.1,302.1 244.0,301.5 245.2,301.4 246.9,302.0 247.6,305.7 246.5,307.8 245.9,310.7 247.0,312.9" fill="#9f9f9f" stroke="#d9d9d9" stroke-width="0.45" stroke-linejoin="round"/>
<polygon points="257.3,312.7 246.8,315.5 247.0,312.9 245.9,310.7 246.5,307.8 247.6,305.7 246.9,302.0 246.6,300.1 246.6,298.6 251.1,298.5 252.2,298.7 253.1,298.3 254.3,298.5 254.1,299.3 255.2,300.6 255.2,302.5 255.4,304.5 256.0,305.4 255.5,307.8 255.7,309.0 256.4,310.7 256.9,311.6" fill="#9a9a9a" stroke="#d9d9d9" stroke-width="0.45" stroke-linejoin="round"/>
<polygon points="259.0,311.6 256.9,312.2 256.4,310.7 255.7,309.0 255.5,307.8 256.0,305.4 255.4,304.5 255.2,302.5 255.2,300.6 254.1,299.3 254.3,298.5 256.5,298.5 256.2,299.9 257.0,300.6 257.9,301.5 258.0,302.8 258.5,303.3 258.4,309.2" fill="#b0b0b0" stroke="#d9d9d9" stroke-width="0.45" stroke-linejoin="round"/>
<polygon points="261.1,311.4 259.0,311.6 258.4,309.2 258.5,303.3 258.0,302.8 257.9,301.5 257.0,300.6 256.2,299.9 256.5,298.5 257.4,298.2 257.9,297.1 259.2,296.9 259.7,296.1 260.6,295.4 261.5,295.3 263.5,296.8 263.4,297.7 264.0,299.2 263.5,300.3 263.7,300.9 262.5,302.5 261.7,303.3 261.2,304.9 261.3,306.6" fill="#a2a2a2" stroke="#d9d9d9" stroke-width="0.45" stroke-linejoin="round"/>
<polyline points="283.8,241.6 283.5,243.5 281.4,245.1 280.0,247.4 278.6,249.1" fill="none" stroke="#d9d9d9" stroke-width="0.45" stroke-linejoin="round" />
<polyline points="318.8,245.6 318.1,248.4 318.4,251.8 318.4,270.3 349.0,270.3" fill="none" stroke="#d9d9d9" stroke-width="0.45" stroke-linejoin="round" />
<polyline points="285.0,266.4 288.9,267.4 290.7,268.7 292.8,267.7 315.9,276.7" fill="none" stroke="#d9d9d9" stroke-width="0.45" stroke-linejoin="round" />
<polyline points="288.9,291.6 289.2,289.8 293.8,283.6 293.5,280.8 294.3,275.7 295.1,274.4 293.0,272.1 292.8,267.7" fill="none" stroke="#d9d9d9" stroke-width="0.45" stroke-linejoin="round" />
<polyline points="313.1,298.5 310.7,298.8 308.2,302.4 303.0,303.7 300.5,306.2 297.1,307.3 294.0,307.5 293.5,307.8 292.8,304.2 290.2,301.4 293.5,301.1 292.8,298.8 292.5,295.4 291.5,293.6 290.4,293.4" fill="none" stroke="#d9d9d9" stroke-width="0.45" stroke-linejoin="round" />
<polyline points="293.5,307.8 291.5,310.4 291.5,313.2 292.8,316.5 295.3,320.9 295.6,322.4" fill="none" stroke="#d9d9d9" stroke-width="0.45" stroke-linejoin="round" />
<polyline points="279.4,320.9 283.2,321.1 288.4,321.1 291.5,321.1 295.6,322.4 296.6,317.8 302.0,317.8 302.0,315.7 304.3,313.7 306.9,315.2 312.0,316.3 313.1,314.5 316.9,313.7 319.2,313.7 324.6,313.4" fill="none" stroke="#d9d9d9" stroke-width="0.45" stroke-linejoin="round" />
<polyline points="279.4,324.2 283.2,324.2 283.2,321.1" fill="none" stroke="#d9d9d9" stroke-width="0.45" stroke-linejoin="round" />
<polyline points="302.0,317.8 300.7,320.9 299.9,326.0 299.2,328.6 295.8,331.9 295.3,335.8 293.3,337.9 291.2,339.4 287.6,338.6 285.6,341.7" fill="none" stroke="#d9d9d9" stroke-width="0.45" stroke-linejoin="round" />
<polyline points="282.7,336.8 284.8,335.5 285.0,333.0 286.3,332.7 287.6,333.0 291.2,331.7 291.0,328.1 289.9,326.8 291.0,323.7 288.4,323.5 288.4,321.1" fill="none" stroke="#d9d9d9" stroke-width="0.45" stroke-linejoin="round" />
<polyline points="285.6,341.7 287.6,342.0 296.9,342.0 297.9,345.3 304.3,344.8 305.6,347.1" fill="none" stroke="#d9d9d9" stroke-width="0.45" stroke-linejoin="round" />
<polyline points="333.4,317.8 333.4,320.9 334.4,321.1 332.6,322.7 331.0,325.3 330.3,328.3 330.3,330.3 328.7,334.0 329.5,338.4" fill="none" stroke="#d9d9d9" stroke-width="0.45" stroke-linejoin="round" />
<polyline points="332.6,329.5 341.3,329.4" fill="none" stroke="#d9d9d9" stroke-width="0.45" stroke-linejoin="round" />
<polyline points="330.3,330.3 332.3,329.6 333.4,332.7 332.6,333.0 328.7,334.0" fill="none" stroke="#d9d9d9" stroke-width="0.45" stroke-linejoin="round" />
<polyline points="332.6,333.0 333.1,335.3 331.6,337.3 329.8,338.2" fill="none" stroke="#d9d9d9" stroke-width="0.45" stroke-linejoin="round" />
<polyline points="361.8,316.7 366.4,314.1 369.7,313.9 377.0,306.2 374.9,306.2 367.5,303.8 364.7,301.4 363.9,299.6 364.2,298.7 365.5,297.4" fill="none" stroke="#d9d9d9" stroke-width="0.45" stroke-linejoin="round" />
<polyline points="347.7,289.8 350.8,290.3 351.6,288.5 353.1,289.5 354.7,289.0 357.0,289.5 360.1,291.8 362.1,293.9 363.2,294.7 361.4,297.0 361.6,298.5 364.2,298.7" fill="none" stroke="#d9d9d9" stroke-width="0.45" stroke-linejoin="round" />
<polyline points="363.2,294.7 365.0,294.2" fill="none" stroke="#d9d9d9" stroke-width="0.45" stroke-linejoin="round" />
<polyline points="220.8,272.0 220.8,267.7 223.4,266.5 223.4,260.0 231.9,260.0 231.9,256.6" fill="none" stroke="#d9d9d9" stroke-width="0.45" stroke-linejoin="round" />
<polyline points="231.9,256.4 241.6,262.6" fill="none" stroke="#d9d9d9" stroke-width="0.45" stroke-linejoin="round" />
<polyline points="211.8,285.4 216.9,284.0 219.8,285.6 221.3,287.5 222.9,289.2" fill="none" stroke="#d9d9d9" stroke-width="0.45" stroke-linejoin="round" />
<polyline points="224.6,309.1 226.7,307.0 227.7,305.2" fill="none" stroke="#d9d9d9" stroke-width="0.45" stroke-linejoin="round" />
<polyline points="220.0,303.7 222.1,301.4 225.7,301.1 227.0,303.4 227.7,305.2" fill="none" stroke="#d9d9d9" stroke-width="0.45" stroke-linejoin="round" />
<polyline points="232.4,307.5 232.9,310.6 234.9,312.9 234.7,315.5" fill="none" stroke="#d9d9d9" stroke-width="0.45" stroke-linejoin="round" />
<polyline points="227.7,305.2 230.0,307.5 232.4,307.5" fill="none" stroke="#d9d9d9" stroke-width="0.45" stroke-linejoin="round" />
<polyline points="276.0,314.5 276.8,312.7 278.1,310.4 280.2,308.8 282.7,309.8 284.5,308.8 285.6,305.5 288.1,302.1 289.2,299.0 291.2,297.0" fill="none" stroke="#d9d9d9" stroke-width="0.45" stroke-linejoin="round" />
<polyline points="334.4,348.9 338.8,351.0" fill="none" stroke="#d9d9d9" stroke-width="0.45" stroke-linejoin="round" />
<polyline points="341.6,329.4 351.1,334.8 351.3,336.3 354.9,338.9" fill="none" stroke="#d9d9d9" stroke-width="0.45" stroke-linejoin="round" />
<polyline points="342.2,246.4 343.9,251.0" fill="none" stroke="#d9d9d9" stroke-width="0.45" stroke-linejoin="round" />
<polyline points="344.0,251.0 345.2,247.1 345.6,243.5 346.0,242.7" fill="none" stroke="#d9d9d9" stroke-width="0.45" stroke-linejoin="round" />
<polyline points="344.0,251.4 347.0,251.8 348.0,251.0 350.6,249.7 351.9,248.4 349.3,245.8 354.4,244.6 354.9,244.2 353.9,241.0" fill="none" stroke="#d9d9d9" stroke-width="0.45" stroke-linejoin="round" />
<polyline points="354.9,244.2 358.0,244.7 362.1,246.9 369.1,251.8 373.7,252.0 376.1,252.3 376.8,253.6 378.6,253.4" fill="none" stroke="#d9d9d9" stroke-width="0.45" stroke-linejoin="round" />
<polyline points="373.9,252.0 375.8,249.5 377.5,249.8" fill="none" stroke="#d9d9d9" stroke-width="0.45" stroke-linejoin="round" />
<polyline points="379.0,249.8 376.8,247.4 377.3,245.1 372.7,242.0 370.9,239.4 371.5,237.5 372.8,236.6 370.9,234.3 369.3,231.3 363.0,231.1" fill="none" stroke="#d9d9d9" stroke-width="0.45" stroke-linejoin="round" />
<polyline points="369.3,231.3 367.8,229.1 368.3,225.5 369.3,224.8 366.4,223.7 366.3,221.2 363.7,220.0 361.0,220.1" fill="none" stroke="#d9d9d9" stroke-width="0.45" stroke-linejoin="round" />
<polyline points="357.0,215.3 363.2,215.8 366.8,217.3 368.6,217.1 371.1,217.6 373.4,219.1 376.0,220.9 379.1,219.4" fill="none" stroke="#d9d9d9" stroke-width="0.45" stroke-linejoin="round" />
<polyline points="369.3,224.8 372.4,226.8 373.7,227.1 376.8,225.3 377.6,225.0 378.5,225.8 377.6,227.1 379.9,228.1" fill="none" stroke="#d9d9d9" stroke-width="0.45" stroke-linejoin="round" />
<polyline points="366.3,221.2 369.8,220.7 373.4,219.1" fill="none" stroke="#d9d9d9" stroke-width="0.45" stroke-linejoin="round" />
<polyline points="369.8,220.7 371.4,221.9 373.7,225.3 373.7,227.1" fill="none" stroke="#d9d9d9" stroke-width="0.45" stroke-linejoin="round" />
<polyline points="392.7,230.8 395.0,230.7 396.8,229.1 401.2,228.6 404.3,230.2 406.3,230.7 409.4,232.9 411.2,233.0 411.5,235.2 411.0,238.1 409.7,240.2 409.9,242.0 410.6,245.8 412.8,246.1 413.0,247.6 410.6,250.1 413.0,253.3 415.6,254.3 415.5,256.6 416.9,258.1 413.3,259.5 412.3,262.3" fill="none" stroke="#d9d9d9" stroke-width="0.45" stroke-linejoin="round" />
<polyline points="410.6,250.1 414.8,251.5 418.9,251.2 424.6,250.0 424.8,247.4 428.2,246.4 432.3,244.8 432.3,241.7 434.9,241.0 433.8,239.4 436.9,238.4 438.2,236.3 437.4,234.0 439.2,232.2 444.4,232.1 446.7,231.1" fill="none" stroke="#d9d9d9" stroke-width="0.45" stroke-linejoin="round" />
<polyline points="446.7,231.1 442.6,230.6 438.7,232.4 438.0,229.4 434.6,230.2 432.8,230.2 429.0,231.7 428.4,231.2 425.1,230.8 422.8,230.9 420.7,231.5 420.0,233.5 416.6,234.7 414.1,236.1 411.5,235.2" fill="none" stroke="#d9d9d9" stroke-width="0.45" stroke-linejoin="round" />
<polyline points="364.2,284.8 365.2,284.0 365.0,282.9 365.7,281.6 366.7,282.3 367.4,282.1 370.4,282.0 373.4,282.5 375.0,283.2 376.2,282.8 378.0,280.1 380.4,278.9 387.8,278.0 389.8,282.2 390.7,284.0" fill="none" stroke="#d9d9d9" stroke-width="0.45" stroke-linejoin="round" />
<polyline points="387.8,278.0 395.5,275.4 397.3,270.3 396.1,268.4 396.1,267.4 396.9,266.4 396.9,265.3 398.1,264.8 397.6,264.4 397.8,262.8 399.1,262.8" fill="none" stroke="#d9d9d9" stroke-width="0.45" stroke-linejoin="round" />
<polyline points="386.8,264.9 389.4,267.8 395.9,268.6 396.1,268.4" fill="none" stroke="#d9d9d9" stroke-width="0.45" stroke-linejoin="round" />
<polyline points="384.8,263.2 385.6,263.7 386.3,263.5" fill="none" stroke="#d9d9d9" stroke-width="0.45" stroke-linejoin="round" />
<polyline points="344.5,241.8 345.3,241.8 345.6,241.3 346.3,241.3" fill="none" stroke="#d9d9d9" stroke-width="0.45" stroke-linejoin="round" />
<polyline points="429.5,265.9 431.0,264.2 436.7,264.2 436.2,262.0 434.9,260.8 432.8,257.7 435.6,254.8 438.7,255.1 441.3,252.4 443.0,249.8 445.4,247.2 445.4,245.3 447.6,243.9 445.5,242.6 444.6,240.9 443.7,238.6 445.0,237.5 448.9,238.1 451.8,237.7 454.2,235.6 457.0,238.6 456.7,240.7 457.7,243.3 456.5,245.8 459.0,247.4 462.6,249.2" fill="none" stroke="#d9d9d9" stroke-width="0.45" stroke-linejoin="round" />
<polyline points="446.7,231.1 449.3,232.6 454.2,235.6" fill="none" stroke="#d9d9d9" stroke-width="0.45" stroke-linejoin="round" />
<polyline points="462.6,249.2 460.1,252.8 462.4,253.8 468.3,256.4 471.9,256.9 473.4,258.2 478.3,259.0 480.5,259.0 480.8,257.9 480.5,256.3 480.7,255.1" fill="none" stroke="#d9d9d9" stroke-width="0.45" stroke-linejoin="round" />
<polyline points="462.6,249.2 465.7,249.4 469.8,251.5 474.7,254.3 478.3,254.8 480.7,255.1 482.4,254.6 482.4,256.6 482.9,258.2 485.5,258.0 490.6,257.8 490.9,256.3 489.9,255.4 487.3,254.7 484.2,254.7 482.4,256.6" fill="none" stroke="#d9d9d9" stroke-width="0.45" stroke-linejoin="round" />
<polyline points="489.9,255.4 491.9,255.1 494.2,253.3 497.3,251.5 499.4,252.3 501.2,251.1 502.5,252.7 504.3,254.2 504.5,255.1 503.6,255.6 503.7,257.2 501.9,256.7 498.6,258.5 498.7,260.0 497.3,262.1 497.2,263.4 496.0,265.5 494.0,264.9 494.0,267.6 493.4,268.5 493.6,269.5 492.4,270.2" fill="none" stroke="#d9d9d9" stroke-width="0.45" stroke-linejoin="round" />
<polyline points="504.3,254.2 506.7,255.5 507.8,256.1 507.9,258.1 507.8,260.2 505.3,262.3 505.0,265.4 507.8,265.0 508.4,267.3 510.0,267.8 509.2,270.0 511.1,270.9" fill="none" stroke="#d9d9d9" stroke-width="0.45" stroke-linejoin="round" />
<polyline points="511.5,274.4 509.9,274.9 508.5,276.0 506.7,276.2 505.5,279.0 504.5,279.4 505.7,281.6 507.3,283.5 508.4,285.2 507.4,287.5 506.5,287.9 507.2,289.2 508.9,291.3 509.1,292.7 509.1,293.9 510.1,296.2 508.7,298.6 507.5,301.3" fill="none" stroke="#d9d9d9" stroke-width="0.45" stroke-linejoin="round" />
<polyline points="380.4,207.6 379.1,207.0 375.8,204.2 373.7,202.4 375.0,200.4 374.3,199.9 376.4,197.1 379.1,198.6 379.4,196.8 384.7,194.0 388.7,193.9 397.4,196.7 400.1,195.6 404.2,195.6 407.5,196.9 408.2,196.1 411.8,196.2 412.5,195.0 408.3,193.3 410.8,192.0 410.3,191.3 412.8,190.6 410.9,188.9 412.1,188.0" fill="none" stroke="#d9d9d9" stroke-width="0.45" stroke-linejoin="round" />
<polyline points="451.8,186.7 450.8,188.0 454.4,189.8 459.8,196.1 461.3,194.7 464.8,196.2 468.5,195.6 469.9,196.0 471.2,197.5 473.0,198.0 474.0,199.1 477.4,198.7 478.7,200.3" fill="none" stroke="#d9d9d9" stroke-width="0.45" stroke-linejoin="round" />
<polyline points="478.7,200.3 476.8,202.0 474.6,202.3 474.5,204.9 473.1,206.0 468.0,205.2 466.1,209.8 464.8,210.3 459.7,211.4 462.0,215.8 460.3,216.5 460.5,218.0" fill="none" stroke="#d9d9d9" stroke-width="0.45" stroke-linejoin="round" />
<polyline points="460.5,218.0 458.9,217.6 457.6,216.6 453.8,216.4 449.5,216.3 448.6,216.6 444.9,215.5 443.5,216.1 443.1,217.6 438.8,216.7 437.2,217.1 436.6,218.2 435.1,218.7 431.7,220.5 430.6,222.3 429.6,222.3 428.9,221.1 425.6,221.0 425.1,218.9 423.9,218.9 424.1,216.3 421.0,214.4 416.6,214.6 413.6,215.0 411.1,212.7 404.5,209.6 397.9,211.2 398.0,220.6 396.7,220.8 394.9,218.8 393.2,218.0 390.3,218.6 389.1,219.4" fill="none" stroke="#d9d9d9" stroke-width="0.45" stroke-linejoin="round" />
<polyline points="398.0,220.6 400.9,220.6 400.5,219.3 402.7,218.4 404.9,216.9 408.3,218.3 408.6,220.3 409.6,220.9 412.4,220.7 413.2,221.2 414.5,223.9 417.4,225.6 419.1,226.9 421.8,228.1 425.2,229.2 425.2,230.8" fill="none" stroke="#d9d9d9" stroke-width="0.45" stroke-linejoin="round" />
<polyline points="478.7,200.3 479.7,200.1 482.4,199.7 487.3,197.5 491.2,196.2 493.5,197.0 496.2,197.1 497.9,198.3 500.4,198.4 504.2,199.0 506.7,197.2 505.6,195.7 508.3,193.0 511.1,194.1" fill="none" stroke="#d9d9d9" stroke-width="0.45" stroke-linejoin="round" />
<polyline points="479.7,200.1 480.4,201.9 482.5,203.3 486.2,204.2 488.0,206.3 487.0,209.3 487.9,210.4 491.0,210.8 494.4,211.2 497.6,212.8 499.1,213.1 500.3,215.5 501.8,217.0 504.6,216.9 510.0,217.5" fill="none" stroke="#d9d9d9" stroke-width="0.45" stroke-linejoin="round" />
<polyline points="460.5,218.0 460.1,218.6 456.0,219.9 455.1,220.9 451.8,221.3 450.9,222.9 448.2,222.6 446.4,223.0 443.9,224.3 444.3,224.9 443.6,225.5 444.2,227.8 445.0,227.6 446.6,228.2 446.5,229.2 446.9,230.6" fill="none" stroke="#d9d9d9" stroke-width="0.45" stroke-linejoin="round" />
<polyline points="436.6,218.2 435.4,220.4 437.2,221.2 439.2,220.9 441.8,221.7 439.2,223.0 435.6,223.5 434.1,223.7 432.3,222.2 430.6,222.3" fill="none" stroke="#d9d9d9" stroke-width="0.45" stroke-linejoin="round" />
<polyline points="443.6,225.5 439.2,225.5 435.4,225.0 432.8,225.3 431.5,223.7 429.0,225.3 427.4,226.3 429.5,226.8 429.0,229.1 428.4,231.2" fill="none" stroke="#d9d9d9" stroke-width="0.45" stroke-linejoin="round" />
<polyline points="231.0,219.2 231.9,218.5 233.0,218.1 233.6,219.4 235.1,219.4 235.6,219.1 237.1,219.2 237.8,220.5 236.6,221.1 236.6,223.2 236.1,223.5 236.0,224.7 234.9,225.0 236.0,226.5 235.3,228.2 236.1,228.9 235.8,229.7 234.8,230.6 235.1,231.5" fill="none" stroke="#d9d9d9" stroke-width="0.45" stroke-linejoin="round" />
<polyline points="249.3,215.2 250.3,216.2 255.1,217.4 256.0,216.8 258.9,218.0 261.9,217.7 262.3,217.8" fill="none" stroke="#d9d9d9" stroke-width="0.45" stroke-linejoin="round" />
<polyline points="271.8,208.6 270.9,207.5 269.7,207.9 269.7,206.7 271.6,205.3 271.5,204.6 272.7,204.9 273.4,204.4 273.7,204.5 273.7,202.6 275.0,200.8 271.3,200.4 270.1,199.7 269.4,199.7 268.8,199.5 266.5,198.3 265.2,198.5 263.4,197.3 262.2,196.3 261.0,196.2 260.7,195.3" fill="none" stroke="#d9d9d9" stroke-width="0.45" stroke-linejoin="round" />
<polyline points="262.7,194.8 264.6,195.0 267.0,194.5 268.6,195.6 270.0,196.2 269.7,198.0 270.2,198.6 270.1,199.7" fill="none" stroke="#d9d9d9" stroke-width="0.45" stroke-linejoin="round" />
<polyline points="270.0,196.2 269.6,193.5 271.1,193.5 271.8,192.6 271.9,189.4" fill="none" stroke="#d9d9d9" stroke-width="0.45" stroke-linejoin="round" />
<polyline points="273.7,204.5 275.6,204.4 276.1,203.9 278.8,204.6 279.6,204.5 280.9,205.2 281.3,204.5 283.6,204.7 285.4,204.2 286.6,204.3 287.4,204.8 287.7,204.4 287.3,202.7 288.2,202.4 289.2,201.2 287.7,200.1 286.4,199.5 286.1,198.4 285.7,197.6 287.5,197.1 288.5,196.4 290.3,195.9 291.0,195.4 291.6,195.7 292.8,195.4 291.7,193.8 292.0,192.9 291.3,191.6 290.4,190.6 291.1,189.9 290.5,188.6" fill="none" stroke="#d9d9d9" stroke-width="0.45" stroke-linejoin="round" />
<polyline points="278.8,204.6 278.9,205.1 278.6,205.8 279.7,206.2 281.0,206.3" fill="none" stroke="#d9d9d9" stroke-width="0.45" stroke-linejoin="round" />
<polyline points="289.2,201.2 291.1,202.0 292.5,201.0 293.4,200.8 295.4,201.6 296.6,201.4 297.8,201.9 297.6,202.2 297.8,203.1 297.6,204.2 296.2,204.2 296.7,204.7 295.8,206.4 295.3,206.8 293.1,206.9 291.8,207.5 289.7,207.3" fill="none" stroke="#d9d9d9" stroke-width="0.45" stroke-linejoin="round" />
<polyline points="289.5,209.9 291.2,209.9 291.7,209.5 292.6,209.9 293.6,210.0 293.6,209.3 294.5,209.0 294.7,208.0 296.8,207.3 295.8,206.4" fill="none" stroke="#d9d9d9" stroke-width="0.45" stroke-linejoin="round" />
<polyline points="296.8,207.3 297.6,207.6 299.5,208.7 301.6,209.2 302.6,208.8 303.2,209.8 304.6,208.1 306.2,208.2 308.2,207.8 309.8,206.0 311.0,204.3 312.6,203.7" fill="none" stroke="#d9d9d9" stroke-width="0.45" stroke-linejoin="round" />
<polyline points="297.8,203.1 299.1,203.8 300.1,204.1 302.3,203.7 302.5,203.2 304.7,202.7 306.2,202.6 306.8,202.0 307.7,201.8 310.4,202.6 311.0,202.4 312.2,200.6 312.7,200.8 312.1,199.6 314.4,197.5 315.7,197.2 316.0,196.5 314.7,194.2 314.6,193.1 313.8,191.9 315.4,191.4 315.4,190.4 314.7,189.4 314.5,188.3" fill="none" stroke="#d9d9d9" stroke-width="0.45" stroke-linejoin="round" />
<polyline points="311.0,202.4 312.6,203.7" fill="none" stroke="#d9d9d9" stroke-width="0.45" stroke-linejoin="round" />
<polyline points="297.8,201.9 299.3,201.4 300.7,200.7 302.6,199.6" fill="none" stroke="#d9d9d9" stroke-width="0.45" stroke-linejoin="round" />
<polyline points="292.8,195.4 294.0,196.3 295.9,196.5 295.8,197.2 297.2,197.7 297.6,197.1 299.3,197.4 299.6,198.2 301.5,198.3 302.6,199.6 303.9,199.4 305.2,200.3 306.7,199.8 307.9,200.0 309.7,199.7 312.2,200.6" fill="none" stroke="#d9d9d9" stroke-width="0.45" stroke-linejoin="round" />
<polyline points="314.7,194.2 315.9,194.1 317.3,193.4 319.3,193.4 321.9,193.6 324.7,194.2 326.8,194.3 327.8,194.6 328.7,194.2 329.4,194.8 331.7,194.7 332.7,194.9 332.9,193.6 333.7,193.1 334.7,190.4 335.2,190.2 337.2,190.3 338.2,189.7 337.5,189.0 335.7,188.6" fill="none" stroke="#d9d9d9" stroke-width="0.45" stroke-linejoin="round" />
<polyline points="333.7,193.1 335.9,192.9 336.9,193.0 337.5,192.4 338.3,192.5 340.9,192.3 342.6,193.8 341.9,194.3 342.1,195.1 344.2,195.2 345.1,196.3 345.1,196.8 348.3,197.7 350.3,197.3 351.9,198.5 353.4,198.5 357.2,199.3 357.2,200.1 356.2,201.4 356.7,202.8 356.3,203.7 353.8,203.9 352.5,204.6 352.4,205.8" fill="none" stroke="#d9d9d9" stroke-width="0.45" stroke-linejoin="round" />
<polyline points="312.6,203.7 313.7,203.2 315.3,203.5 316.9,203.5 318.1,204.1 319.0,203.7 320.9,203.5 321.5,202.9 322.6,202.9 323.4,203.1 324.2,203.9 325.0,205.0 326.5,206.5 326.6,207.6 326.3,208.7 326.8,209.9 327.9,210.4 329.1,210.0 330.3,210.4" fill="none" stroke="#d9d9d9" stroke-width="0.45" stroke-linejoin="round" />
<polyline points="322.6,202.9 323.2,202.5 324.9,202.2 326.8,203.0 327.9,203.1 329.0,203.8 328.9,204.7 329.8,205.1 330.2,206.2 331.1,206.9 330.9,207.2 331.4,207.5 330.7,207.7 329.2,207.6 328.9,207.2 328.4,207.4 328.6,207.9 327.9,208.7 327.4,209.6 326.8,209.9" fill="none" stroke="#d9d9d9" stroke-width="0.45" stroke-linejoin="round" />
<polyline points="312.4,213.1 313.2,214.2 314.2,214.0 316.1,214.4 319.9,214.5 321.2,213.9 324.2,213.3 326.1,214.2 327.6,214.5" fill="none" stroke="#d9d9d9" stroke-width="0.45" stroke-linejoin="round" />
<polyline points="306.2,208.2 307.6,209.3 307.8,210.1 309.4,210.7 309.6,211.7 311.1,212.5 311.9,211.9 312.6,212.2 311.9,212.7 312.4,213.1 311.8,213.7 312.0,214.6 313.3,215.8 312.3,216.5 311.9,217.4 312.2,217.7 311.7,218.0 313.0,218.9 313.2,220.6 315.1,220.6 317.1,219.9 319.0,220.8 321.3,220.6 321.3,219.3 322.6,220.0 323.9,218.5 326.2,218.9" fill="none" stroke="#d9d9d9" stroke-width="0.45" stroke-linejoin="round" />
<polyline points="321.2,221.9 321.8,221.6 322.6,220.0" fill="none" stroke="#d9d9d9" stroke-width="0.45" stroke-linejoin="round" />
<polyline points="307.1,219.2 309.1,218.3 311.7,218.0" fill="none" stroke="#d9d9d9" stroke-width="0.45" stroke-linejoin="round" />
<polyline points="308.2,221.8 309.9,221.6 310.9,221.0 312.3,221.1 313.2,220.6" fill="none" stroke="#d9d9d9" stroke-width="0.45" stroke-linejoin="round" />
<polyline points="294.7,211.6 295.2,210.6 296.1,211.2 296.7,210.6 297.9,210.6 300.1,211.0 301.9,210.9 303.1,211.5 304.0,211.5 303.3,212.6 304.6,213.6 304.2,214.8 303.6,215.0 303.1,215.2 302.3,215.8 301.9,217.2" fill="none" stroke="#d9d9d9" stroke-width="0.45" stroke-linejoin="round" />
<polyline points="294.7,211.6 295.9,212.8 296.5,213.6 297.7,214.6 298.7,215.1 299.6,216.2 301.9,217.2" fill="none" stroke="#d9d9d9" stroke-width="0.45" stroke-linejoin="round" />
<polyline points="303.1,211.5 303.2,209.8" fill="none" stroke="#d9d9d9" stroke-width="0.45" stroke-linejoin="round" />
<polyline points="303.6,215.0 304.3,215.4 304.6,215.8 305.5,216.0 306.5,216.5 306.3,216.8 305.8,217.3" fill="none" stroke="#d9d9d9" stroke-width="0.45" stroke-linejoin="round" />
<polyline points="306.3,216.8 306.9,216.6 307.2,215.7 307.7,215.6 308.1,216.0 308.5,216.1 308.9,216.5 309.3,216.6 309.8,217.1 310.2,217.1 309.9,217.7 309.6,218.0 309.7,218.2 309.1,218.3" fill="none" stroke="#d9d9d9" stroke-width="0.45" stroke-linejoin="round" />
<polyline points="10.1,200.9 11.1,201.6 15.2,201.9 19.0,203.3 22.9,203.2 24.7,203.4" fill="none" stroke="#d9d9d9" stroke-width="0.45" stroke-linejoin="round" />
<polyline points="36.5,207.3 38.1,207.8 39.3,208.3" fill="none" stroke="#d9d9d9" stroke-width="0.45" stroke-linejoin="round" />
<polyline points="42.2,210.4 42.4,216.3 41.7,217.6 40.6,218.6 42.2,219.6" fill="none" stroke="#d9d9d9" stroke-width="0.45" stroke-linejoin="round" />
<polyline points="51.2,216.7 51.0,215.6" fill="none" stroke="#d9d9d9" stroke-width="0.45" stroke-linejoin="round" />
<polyline points="58.1,213.5 61.4,211.4 62.2,211.2 70.4,211.2 72.1,210.4 73.5,208.8 74.3,206.8 76.4,204.9 78.7,205.1 80.0,205.8 80.0,209.4 81.0,210.4 81.5,210.8" fill="none" stroke="#d9d9d9" stroke-width="0.45" stroke-linejoin="round" />
<polyline points="27.5,281.1 25.1,281.1 25.0,285.9 25.7,286.1" fill="none" stroke="#d9d9d9" stroke-width="0.45" stroke-linejoin="round" />
<polyline points="24.7,289.8 26.8,290.9 28.7,292.4" fill="none" stroke="#d9d9d9" stroke-width="0.45" stroke-linejoin="round" />
<polyline points="25.0,288.2 24.7,289.8" fill="none" stroke="#d9d9d9" stroke-width="0.45" stroke-linejoin="round" />
<polyline points="28.8,293.4 31.4,292.6 32.9,290.8 35.8,289.3 37.0,289.0 40.5,288.2" fill="none" stroke="#d9d9d9" stroke-width="0.45" stroke-linejoin="round" />
<polyline points="34.0,298.3 36.5,298.4 38.3,299.2 39.2,298.8" fill="none" stroke="#d9d9d9" stroke-width="0.45" stroke-linejoin="round" />
<polyline points="41.0,305.7 41.3,303.7 41.9,302.3" fill="none" stroke="#d9d9d9" stroke-width="0.45" stroke-linejoin="round" />
<polyline points="55.4,304.6 55.0,306.5 54.0,308.2" fill="none" stroke="#d9d9d9" stroke-width="0.45" stroke-linejoin="round" />
<polyline points="70.8,296.5 68.1,298.3 66.6,301.9 68.1,305.2 69.2,308.8 74.0,308.8 75.8,311.1 80.7,310.9 80.0,315.2 81.2,320.9 82.3,323.7" fill="none" stroke="#d9d9d9" stroke-width="0.45" stroke-linejoin="round" />
<polyline points="82.3,323.7 74.8,322.4 74.7,324.0 76.4,324.2 75.7,325.0 74.3,325.4 74.2,327.3 75.8,329.6 74.6,337.9" fill="none" stroke="#d9d9d9" stroke-width="0.45" stroke-linejoin="round" />
<polyline points="51.6,323.2 54.3,324.7 55.3,325.8 58.1,325.8 60.4,327.2 60.9,329.1 60.2,330.8 57.3,333.5 54.3,334.5 52.7,336.8 52.2,338.4 50.7,339.7 49.6,338.2 47.8,338.1 47.8,335.5" fill="none" stroke="#d9d9d9" stroke-width="0.45" stroke-linejoin="round" />
<polyline points="60.9,329.1 63.0,328.1 66.3,332.7 68.4,333.0 70.7,332.7 72.2,332.6 74.3,333.7 72.5,336.3 74.6,337.9" fill="none" stroke="#d9d9d9" stroke-width="0.45" stroke-linejoin="round" />
<polyline points="74.6,337.9 72.2,337.7 66.8,340.4 66.6,341.4 66.1,342.5 66.3,343.8 64.8,344.5 64.0,346.1 66.6,349.9" fill="none" stroke="#d9d9d9" stroke-width="0.45" stroke-linejoin="round" />
<polyline points="82.3,323.7 85.9,324.7 89.2,322.9 89.7,321.7 91.3,321.1 88.9,316.3 92.8,316.5 94.6,316.0 97.5,315.1 98.2,313.4" fill="none" stroke="#d9d9d9" stroke-width="0.45" stroke-linejoin="round" />
<polyline points="100.0,304.8 98.2,307.8 97.2,309.6 96.4,311.5 98.2,313.4 100.1,313.9 101.2,316.6 100.1,319.7 100.7,321.0 100.9,322.2 105.1,322.9 106.9,321.8 109.0,321.9" fill="none" stroke="#d9d9d9" stroke-width="0.45" stroke-linejoin="round" />
<polyline points="107.3,311.5 106.9,313.9 105.4,315.0 105.1,316.8 106.9,318.2 107.2,319.6 109.0,321.9 110.5,321.7 112.6,320.4 114.1,320.9 115.4,320.9 118.2,321.4 121.3,316.1" fill="none" stroke="#d9d9d9" stroke-width="0.45" stroke-linejoin="round" />
<polyline points="115.4,311.9 114.4,313.9 115.4,317.5 114.1,320.9" fill="none" stroke="#d9d9d9" stroke-width="0.45" stroke-linejoin="round" />
</g>
<polygon points="329.0,220.9 330.3,221.0 331.8,220.9 334.9,220.7 335.9,220.3 337.4,219.5 340.9,218.9 344.5,218.8 344.7,219.6 346.7,219.6 347.6,220.7 349.2,220.5 350.0,221.1 351.6,221.4 352.9,221.6 356.3,221.4 358.3,221.4 360.7,220.4 361.2,219.8 361.2,218.5 359.6,216.3 356.3,214.8 354.6,213.5 351.3,211.9 350.1,211.4 348.5,210.8 347.9,210.9 345.2,211.1 344.1,211.5 342.0,212.4 340.9,212.7 340.0,212.2 339.9,210.6 337.7,210.3 340.6,208.3 338.8,208.3 335.9,207.8 335.2,207.0 333.2,207.3 332.5,208.5 330.4,210.6 327.8,213.3 327.7,214.2 327.4,215.3 326.0,215.8 324.9,217.6 326.2,218.9 326.2,219.2 326.4,219.8 328.9,220.8" fill="#f1eeee" />
<polygon points="348.1,210.3 345.2,210.3 344.1,208.3 343.6,208.1 345.2,207.3 348.8,206.7 350.7,205.8 354.2,205.5 355.2,205.8 352.6,206.8 352.2,208.5 350.3,210.4" fill="#f1eeee" />
<polygon points="322.8,222.8 324.9,221.5 326.8,221.3 328.6,221.4 331.0,222.1 328.7,223.0 325.9,223.1 323.6,223.0" fill="#f1eeee" />
<polygon points="377.0,209.4 379.1,208.3 381.4,207.3 385.3,206.3 387.8,206.3 390.7,207.6 390.4,210.4 389.4,210.1 386.8,210.6 385.3,211.2 383.5,212.4 385.0,213.5 385.7,214.6 386.0,216.3 389.1,217.3 389.0,219.5 390.2,219.6 391.2,218.6 394.3,218.9 394.8,220.7 393.0,222.2 390.4,221.9 389.9,223.2 390.4,224.0 390.7,225.5 392.0,227.9 392.5,230.7 393.0,232.0 390.4,232.2 387.8,232.7 385.3,232.4 383.2,231.2 381.3,230.5 379.8,228.0 379.8,227.2 381.2,225.7 381.3,223.7 383.6,223.1 381.8,222.5 380.6,220.9 378.3,218.7 376.3,216.3 376.5,214.2 375.0,211.9 374.5,210.6" fill="#f1eeee" />
<polygon points="17.8,206.8 21.6,204.7 24.7,203.4 27.3,201.9 31.9,201.5 35.8,203.6 36.5,206.0 37.0,207.3 34.5,206.8 31.6,207.4 29.3,207.2 27.5,206.0 28.8,205.0 26.8,205.5 24.2,206.4 21.6,207.0" fill="#f1eeee" />
<polygon points="28.6,218.3 29.3,219.8 30.9,219.5 32.4,217.6 32.2,214.7 32.7,211.9 34.5,211.2 35.8,209.4 36.3,209.1 34.2,208.6 31.9,209.1 29.6,210.6 28.6,212.2 28.0,212.3 29.3,213.2 28.8,215.0 28.3,216.3" fill="#f1eeee" />
<polygon points="36.5,208.8 38.3,208.3 42.2,208.3 44.7,208.6 47.1,209.1 48.6,211.2 48.9,211.8 46.5,212.0 45.3,210.6 44.2,212.7 44.2,215.3 42.4,216.3 41.9,214.5 40.1,213.7 38.6,214.5 39.6,213.2 40.1,211.2 38.1,209.9" fill="#f1eeee" />
<polygon points="39.7,219.5 41.7,220.1 44.2,220.1 47.3,218.9 51.2,216.9 51.4,216.5 48.1,216.8 45.3,217.2 42.2,218.7 40.6,218.3" fill="#f1eeee" />
<polygon points="49.1,215.5 51.2,215.6 55.0,215.5 58.1,215.0 58.4,213.5 56.3,213.7 53.7,213.8 50.4,214.6" fill="#f1eeee" />
<polygon points="58.4,213.2 61.4,211.2 64.0,210.1 66.6,208.3 69.2,207.2 71.2,206.4 71.2,206.7 69.2,207.6 66.6,208.7 64.0,210.5 61.4,211.5 58.4,213.6" fill="#f1eeee" />
<polygon points="41.1,218.0 42.2,218.0 42.2,217.2 41.4,217.3" fill="#f1eeee" />
<polygon points="33.4,296.2 35.5,298.0 36.3,298.3 35.0,296.6 34.0,295.7" fill="#f1eeee" />
<polygon points="69.3,298.8 70.4,298.8 71.7,301.6 70.4,303.5 69.2,302.4 68.9,300.3" fill="#f1eeee" />
<polygon points="286.4,215.1 284.3,214.8 281.7,214.4 278.7,214.0 275.3,213.5 271.6,213.0 267.7,212.5 263.6,211.9 259.3,211.4 255.1,210.9 250.8,210.4 246.6,209.9 242.5,209.6 238.6,209.3 235.0,209.2 231.6,209.1 228.2,209.1 224.8,209.2 221.5,209.3 218.2,209.5 215.0,209.7 211.8,209.9 208.6,210.2 205.4,210.5 202.3,210.9 199.2,211.2 196.1,211.6 193.0,211.9 189.9,212.3 186.9,212.6 183.9,212.9 181.0,213.3 178.1,213.6 175.2,213.9 172.3,214.3 169.4,214.7 166.6,215.1 163.7,215.6 160.9,216.1 158.0,216.6 155.1,217.3 152.1,217.9 149.1,218.7 146.1,219.5 142.9,220.4 139.7,221.4 136.4,222.4 133.1,223.5 129.8,224.6 126.5,225.8 123.2,226.9 120.0,228.1 116.9,229.3 113.9,230.5 111.0,231.7 108.3,232.9 105.8,234.0 103.4,235.1 101.2,236.2 99.2,237.3 97.2,238.4 95.4,239.5 93.7,240.6 92.0,241.7 90.4,242.8 88.8,243.9 87.2,245.0 85.6,246.1 84.0,247.3 82.3,248.4 80.5,249.6 78.7,250.8 76.7,252.1 74.7,253.5 72.6,254.9 70.6,256.3 68.5,257.8 66.4,259.2 64.5,260.6 62.6,261.9 60.8,263.2 59.1,264.4 57.6,265.4 56.3,266.4 55.2,267.2 54.3,267.8 53.6,268.3 53.0,268.8 52.7,269.1 52.4,269.3 52.2,269.5 52.1,269.8 52.3,270.2 52.6,270.3 52.7,270.3 52.8,270.3 52.7,270.3 52.5,269.8 52.5,269.8 52.4,269.9 52.4,270.0 52.5,270.2 52.6,270.3 52.7,270.4 52.8,270.4 53.0,270.3 53.1,270.2 53.2,270.1 53.0,269.5 52.8,269.5 52.7,269.5 52.6,269.5 52.8,269.6 52.9,269.9 52.9,270.0 53.0,269.9 53.2,269.7 53.5,269.4 54.1,269.0 54.7,268.5 55.6,267.8 56.8,267.0 58.1,266.1 59.6,265.0 61.2,263.9 63.0,262.6 64.9,261.3 66.9,259.9 69.0,258.5 71.1,257.1 73.1,255.7 75.2,254.3 77.2,252.9 79.2,251.6 81.1,250.4 82.8,249.2 84.5,248.1 86.2,246.9 87.8,245.8 89.4,244.7 90.9,243.6 92.6,242.5 94.2,241.4 95.9,240.4 97.7,239.3 99.7,238.2 101.7,237.2 103.9,236.1 106.2,235.0 108.8,233.9 111.5,232.7 114.3,231.6 117.3,230.4 120.4,229.2 123.6,228.0 126.9,226.9 130.2,225.7 133.5,224.6 136.8,223.6 140.0,222.6 143.3,221.6 146.4,220.7 149.5,219.9 152.4,219.2 155.4,218.5 158.2,218.0 161.1,217.4 164.0,216.9 166.8,216.5 169.6,216.1 172.5,215.7 175.3,215.3 178.2,215.0 181.1,214.7 184.1,214.4 187.0,214.1 190.1,213.7 193.1,213.4 196.2,213.1 199.3,212.7 202.4,212.4 205.6,212.1 208.7,211.8 211.9,211.5 215.1,211.3 218.3,211.1 221.6,210.9 224.9,210.8 228.2,210.7 231.6,210.8 235.0,210.8 238.5,211.0 242.4,211.3 246.4,211.7 250.6,212.1 254.9,212.6 259.1,213.1 263.3,213.7 267.4,214.3 271.4,214.8 275.1,215.4 278.5,215.9 281.5,216.3 284.1,216.7 286.2,216.9" fill="#f2cbc9" fill-opacity="1"/>
<polygon points="286.4,217.0 288.0,216.9 290.1,216.8 292.6,216.6 295.4,216.4 298.5,216.2 301.7,216.0 305.1,215.8 308.4,215.6 311.8,215.3 315.1,215.1 318.2,215.0 321.1,214.8 323.8,214.7 326.0,214.6 327.9,214.5 329.5,214.4 330.8,214.3 331.9,214.2 332.8,214.1 333.6,214.1 334.3,214.0 335.1,214.0 336.0,214.1 337.1,214.2 338.4,214.3 340.1,214.5 342.0,214.7 344.4,215.1 347.3,215.5 350.7,216.0 354.4,216.7 358.4,217.3 362.7,218.1 367.2,218.9 371.7,219.7 376.2,220.5 380.7,221.4 385.1,222.2 389.2,223.0 393.1,223.8 396.7,224.5 399.8,225.2 402.5,225.8 404.9,226.4 407.1,226.9 409.1,227.4 410.9,227.9 412.6,228.4 414.2,228.9 415.7,229.4 417.1,229.9 418.6,230.4 420.0,230.9 421.5,231.5 423.1,232.1 424.9,232.8 426.7,233.5 428.5,234.2 430.3,235.0 432.1,235.8 433.9,236.6 435.7,237.4 437.5,238.3 439.3,239.1 441.1,240.0 442.9,240.9 444.7,241.8 446.5,242.8 448.3,243.7 450.2,244.6 452.0,245.6 453.9,246.6 455.8,247.7 457.8,248.8 459.7,249.9 461.7,251.1 463.6,252.2 465.5,253.3 467.4,254.4 469.2,255.5 470.9,256.6 472.5,257.5 474.0,258.5 475.4,259.3 476.6,260.1 477.8,260.9 478.9,261.6 479.9,262.3 480.9,263.0 481.8,263.6 482.6,264.2 483.4,264.8 484.1,265.3 484.7,265.8 485.3,266.3 485.9,266.7 486.4,267.1 486.8,267.4 487.2,267.6 487.7,267.6 488.1,267.4 488.5,267.1 488.7,266.7 488.7,266.2 488.5,265.8 488.2,265.4 487.8,265.1 487.3,264.8 486.8,264.4 486.2,263.9 485.5,263.4 484.8,262.9 484.0,262.3 483.2,261.7 482.3,261.0 481.3,260.3 480.3,259.6 479.1,258.9 477.9,258.1 476.6,257.3 475.2,256.4 473.7,255.5 472.1,254.5 470.4,253.5 468.6,252.4 466.7,251.3 464.8,250.2 462.9,249.0 460.9,247.9 458.9,246.8 456.9,245.7 455.0,244.6 453.1,243.5 451.2,242.6 449.4,241.6 447.6,240.7 445.8,239.7 444.0,238.8 442.1,237.9 440.3,237.0 438.5,236.2 436.7,235.3 434.8,234.5 433.0,233.6 431.2,232.9 429.4,232.1 427.5,231.3 425.7,230.6 424.0,230.0 422.4,229.3 420.8,228.8 419.3,228.2 417.9,227.7 416.4,227.2 414.9,226.7 413.3,226.2 411.6,225.7 409.7,225.2 407.7,224.7 405.5,224.2 403.0,223.6 400.2,223.0 397.1,222.3 393.6,221.6 389.7,220.8 385.5,220.0 381.1,219.2 376.6,218.3 372.1,217.5 367.5,216.7 363.1,215.9 358.8,215.2 354.8,214.5 351.0,213.9 347.7,213.4 344.8,212.9 342.3,212.6 340.3,212.3 338.7,212.1 337.3,212.0 336.2,211.9 335.2,211.9 334.3,211.9 333.4,211.9 332.6,212.0 331.7,212.1 330.6,212.2 329.4,212.3 327.8,212.3 326.0,212.4 323.7,212.5 321.0,212.6 318.1,212.8 315.0,213.0 311.7,213.2 308.3,213.4 304.9,213.7 301.6,213.9 298.3,214.1 295.3,214.3 292.5,214.5 290.0,214.7 287.9,214.8 286.2,215.0" fill="#e6b2a2" fill-opacity="1"/>
<polygon points="285.8,216.4 286.2,216.9 286.7,217.6 287.3,218.4 287.9,219.2 288.6,220.1 289.3,221.1 290.1,222.2 290.9,223.3 291.8,224.4 292.6,225.6 293.5,226.7 294.3,228.0 295.1,229.2 296.0,230.4 296.8,231.6 297.6,232.9 298.5,234.2 299.3,235.6 300.2,237.0 301.1,238.4 302.0,239.8 302.9,241.3 303.8,242.8 304.7,244.2 305.6,245.7 306.4,247.2 307.3,248.6 308.1,250.0 309.0,251.4 309.8,252.8 310.6,254.2 311.4,255.6 312.2,257.0 313.0,258.4 313.8,259.8 314.6,261.2 315.4,262.6 316.2,264.0 317.0,265.4 317.8,266.9 318.6,268.3 319.4,269.7 320.3,271.2 321.3,272.8 322.2,274.5 323.3,276.2 324.3,277.9 325.3,279.6 326.3,281.3 327.3,283.0 328.3,284.5 329.2,286.0 330.0,287.4 330.7,288.6 331.3,289.6 331.8,290.4 332.0,290.6 332.2,290.7 332.5,290.7 332.7,290.7 332.9,290.5 333.0,290.3 333.0,290.0 333.0,289.8 332.5,288.9 331.8,287.9 331.1,286.7 330.3,285.3 329.4,283.9 328.5,282.3 327.5,280.6 326.4,279.0 325.4,277.2 324.4,275.5 323.4,273.8 322.4,272.2 321.4,270.6 320.6,269.1 319.7,267.6 318.9,266.2 318.1,264.8 317.3,263.4 316.5,262.0 315.7,260.6 314.9,259.2 314.1,257.8 313.3,256.4 312.5,255.0 311.7,253.6 310.9,252.2 310.1,250.8 309.3,249.4 308.4,247.9 307.5,246.5 306.7,245.0 305.8,243.6 304.9,242.1 304.0,240.6 303.1,239.2 302.2,237.7 301.3,236.3 300.4,234.9 299.5,233.5 298.7,232.2 297.9,230.9 297.0,229.6 296.2,228.4 295.4,227.2 294.5,226.0 293.7,224.8 292.8,223.6 292.0,222.5 291.2,221.4 290.4,220.3 289.6,219.3 288.9,218.4 288.3,217.6 287.7,216.8 287.2,216.2 286.8,215.6" fill="#f5dedb" fill-opacity="1"/>
<polygon points="285.8,216.4 286.3,217.0 286.8,217.6 287.4,218.4 288.1,219.2 288.9,220.2 289.7,221.1 290.6,222.2 291.5,223.3 292.4,224.4 293.4,225.6 294.3,226.8 295.3,228.0 296.2,229.2 297.1,230.4 298.0,231.6 298.9,232.9 299.8,234.2 300.8,235.6 301.7,237.0 302.7,238.4 303.7,239.9 304.7,241.3 305.6,242.8 306.6,244.3 307.6,245.7 308.5,247.2 309.4,248.6 310.4,250.0 311.2,251.4 312.1,252.8 312.9,254.1 313.7,255.4 314.5,256.6 315.3,257.9 316.0,259.2 316.8,260.5 317.6,261.9 318.5,263.3 319.3,264.8 320.2,266.3 321.1,268.0 322.1,269.7 323.2,271.6 324.3,273.6 325.4,275.7 326.6,277.8 327.9,280.1 329.1,282.4 330.4,284.7 331.7,287.0 332.9,289.4 334.2,291.7 335.4,293.9 336.5,296.1 337.7,298.3 338.7,300.3 339.8,302.3 340.8,304.3 341.9,306.4 342.9,308.5 343.9,310.6 344.9,312.6 345.9,314.5 346.8,316.4 347.7,318.2 348.5,319.9 349.3,321.4 349.9,322.8 350.5,324.0 351.0,325.0 351.2,325.2 351.4,325.3 351.6,325.3 351.9,325.3 352.1,325.1 352.2,324.9 352.2,324.7 352.2,324.4 351.7,323.4 351.1,322.2 350.4,320.9 349.7,319.3 348.9,317.7 348.0,315.9 347.1,314.0 346.1,312.0 345.1,310.0 344.1,307.9 343.0,305.8 342.0,303.8 340.9,301.7 339.9,299.7 338.8,297.7 337.7,295.5 336.5,293.3 335.3,291.1 334.1,288.8 332.8,286.4 331.5,284.1 330.3,281.8 329.0,279.5 327.8,277.2 326.6,275.0 325.4,272.9 324.3,270.9 323.3,269.1 322.3,267.3 321.3,265.7 320.4,264.1 319.6,262.6 318.8,261.2 317.9,259.9 317.2,258.5 316.4,257.2 315.6,255.9 314.8,254.7 314.0,253.4 313.2,252.1 312.3,250.7 311.4,249.4 310.5,247.9 309.6,246.5 308.7,245.0 307.7,243.5 306.7,242.1 305.7,240.6 304.8,239.1 303.8,237.7 302.8,236.2 301.8,234.8 300.9,233.5 299.9,232.1 299.0,230.9 298.1,229.6 297.2,228.4 296.3,227.2 295.4,226.0 294.4,224.8 293.5,223.6 292.5,222.5 291.6,221.4 290.7,220.3 289.9,219.3 289.1,218.4 288.4,217.6 287.8,216.8 287.3,216.1 286.8,215.6" fill="#f5dedb" fill-opacity="1"/>
<polygon points="286.0,218.3 286.7,218.4 287.5,218.5 288.5,218.6 289.5,218.7 290.6,218.8 291.8,218.9 293.0,219.0 294.3,219.2 295.7,219.3 297.0,219.5 298.4,219.7 299.8,220.0 301.2,220.2 302.6,220.5 304.1,220.8 305.6,221.1 307.2,221.5 308.9,221.9 310.6,222.3 312.3,222.7 314.1,223.1 315.8,223.6 317.6,224.0 319.3,224.5 320.9,225.0 322.5,225.4 324.0,225.9 325.4,226.4 326.7,226.8 328.0,227.3 329.2,227.8 330.4,228.2 331.6,228.7 332.7,229.3 333.9,229.8 335.0,230.3 336.0,230.8 337.1,231.3 338.2,231.8 339.2,232.3 340.3,232.8 341.3,233.3 342.3,233.7 343.4,234.2 344.4,234.7 345.5,235.2 346.5,235.7 347.6,236.2 348.5,236.6 349.5,237.1 350.4,237.5 351.2,237.9 352.0,238.3 352.7,238.6 353.3,238.9 353.8,239.1 354.9,239.4 356.0,239.2 356.9,238.7 357.5,237.8 357.8,236.7 357.6,235.6 357.1,234.7 356.2,234.1 355.7,233.8 355.1,233.6 354.4,233.2 353.6,232.9 352.8,232.5 351.8,232.1 350.9,231.6 349.9,231.2 348.8,230.7 347.8,230.2 346.7,229.7 345.6,229.3 344.5,228.8 343.5,228.3 342.5,227.9 341.5,227.4 340.4,226.9 339.4,226.5 338.3,226.0 337.2,225.5 336.1,224.9 334.9,224.4 333.7,223.9 332.4,223.4 331.1,222.9 329.8,222.4 328.4,221.9 327.0,221.4 325.5,221.0 323.9,220.5 322.3,220.1 320.6,219.6 318.8,219.2 317.1,218.7 315.3,218.3 313.5,217.9 311.7,217.4 310.0,217.1 308.3,216.7 306.6,216.3 305.1,216.0 303.6,215.7 302.1,215.5 300.6,215.2 299.1,215.0 297.7,214.8 296.2,214.6 294.8,214.5 293.5,214.4 292.2,214.2 291.0,214.1 289.9,214.0 288.9,213.9 288.0,213.9 287.2,213.8 286.6,213.7" fill="#a85a4b" fill-opacity="0.92"/>
<polygon points="286.2,216.6 286.7,216.7 287.2,216.8 287.9,217.0 288.7,217.1 289.5,217.2 290.4,217.4 291.3,217.6 292.3,217.8 293.3,217.9 294.2,218.1 295.2,218.3 296.1,218.5 297.0,218.7 297.9,218.9 298.7,219.0 299.5,219.3 300.4,219.5 301.3,219.7 302.3,219.9 303.2,220.2 304.1,220.4 304.9,220.6 305.7,220.9 306.5,221.1 307.2,221.2 307.8,221.4 308.4,221.6 308.8,221.7 309.1,221.7 309.4,221.6 309.6,221.4 309.7,221.2 309.7,220.9 309.6,220.6 309.4,220.4 309.2,220.3 308.7,220.2 308.2,220.1 307.6,219.9 306.9,219.7 306.1,219.5 305.3,219.3 304.4,219.1 303.5,218.8 302.6,218.6 301.7,218.4 300.8,218.1 299.9,217.9 299.0,217.7 298.1,217.5 297.3,217.4 296.4,217.2 295.5,217.0 294.5,216.8 293.5,216.6 292.5,216.4 291.6,216.3 290.6,216.1 289.8,216.0 288.9,215.8 288.2,215.7 287.5,215.6 286.9,215.4 286.4,215.4" fill="#f8ebe8" fill-opacity="1"/>
<polygon points="285.9,215.3 284.9,215.8 283.7,216.5 282.3,217.3 280.7,218.1 279.0,219.0 277.2,220.0 275.2,221.1 273.3,222.2 271.2,223.3 269.2,224.4 267.2,225.5 265.3,226.7 263.4,227.8 261.6,228.8 259.8,229.9 257.9,231.1 256.0,232.3 254.1,233.6 252.1,234.9 250.1,236.1 248.2,237.4 246.3,238.7 244.5,239.9 242.9,241.0 241.4,242.0 240.0,242.9 238.8,243.7 237.9,244.3 237.6,244.6 237.5,244.8 237.5,245.2 237.6,245.4 237.9,245.7 238.1,245.8 238.5,245.8 238.7,245.7 239.7,245.0 240.9,244.2 242.2,243.3 243.8,242.3 245.4,241.2 247.2,240.0 249.1,238.8 251.0,237.5 253.0,236.2 254.9,234.9 256.9,233.6 258.8,232.4 260.7,231.3 262.4,230.2 264.2,229.1 266.1,228.0 268.0,226.9 270.0,225.8 272.0,224.7 274.0,223.6 276.0,222.5 277.9,221.4 279.8,220.4 281.5,219.5 283.1,218.7 284.5,217.9 285.7,217.2 286.7,216.7" fill="#f5dcd8" fill-opacity="1"/>
<polygon points="285.8,215.6 285.2,216.4 284.5,217.4 283.6,218.6 282.7,219.9 281.7,221.3 280.6,222.8 279.5,224.4 278.3,226.0 277.1,227.7 276.0,229.3 274.8,231.0 273.6,232.6 272.5,234.1 271.5,235.6 270.4,237.1 269.3,238.7 268.2,240.3 267.0,241.9 265.9,243.6 264.7,245.2 263.6,246.9 262.5,248.5 261.4,250.0 260.4,251.4 259.5,252.7 258.7,253.8 258.0,254.8 257.5,255.6 257.4,255.9 257.4,256.1 257.5,256.3 257.6,256.5 257.9,256.6 258.1,256.6 258.3,256.5 258.5,256.4 259.1,255.6 259.8,254.6 260.6,253.4 261.5,252.1 262.5,250.7 263.5,249.2 264.6,247.6 265.8,246.0 266.9,244.3 268.1,242.7 269.3,241.0 270.4,239.4 271.5,237.9 272.5,236.4 273.6,234.9 274.7,233.3 275.8,231.7 277.0,230.1 278.2,228.4 279.4,226.8 280.6,225.1 281.7,223.6 282.8,222.0 283.8,220.6 284.7,219.3 285.5,218.2 286.2,217.2 286.8,216.4" fill="#f5dcd8" fill-opacity="1"/>
<polygon points="285.7,215.8 285.4,217.0 285.0,218.5 284.6,220.2 284.1,222.1 283.6,224.1 283.1,226.3 282.5,228.7 281.9,231.0 281.3,233.4 280.7,235.9 280.1,238.2 279.5,240.5 278.9,242.8 278.4,244.8 277.8,246.8 277.3,248.8 276.7,250.7 276.2,252.7 275.6,254.6 275.0,256.6 274.4,258.5 273.9,260.4 273.3,262.3 272.7,264.2 272.1,266.1 271.5,268.0 271.0,269.9 270.4,271.8 269.8,273.8 269.1,275.8 268.5,278.0 267.8,280.2 267.1,282.4 266.4,284.6 265.7,286.7 265.0,288.8 264.4,290.8 263.8,292.7 263.2,294.4 262.7,295.9 262.3,297.2 262.0,298.3 262.0,298.6 262.0,298.8 262.2,299.0 262.4,299.1 262.7,299.1 262.9,299.1 263.1,298.9 263.2,298.7 263.6,297.6 264.0,296.3 264.5,294.8 265.0,293.1 265.6,291.2 266.3,289.2 266.9,287.1 267.6,285.0 268.3,282.8 269.0,280.6 269.7,278.4 270.4,276.2 271.0,274.2 271.6,272.2 272.2,270.3 272.8,268.4 273.4,266.5 274.0,264.6 274.5,262.7 275.1,260.8 275.7,258.8 276.3,256.9 276.8,255.0 277.4,253.1 278.0,251.1 278.5,249.1 279.1,247.2 279.6,245.2 280.2,243.1 280.8,240.9 281.4,238.6 282.0,236.2 282.6,233.8 283.2,231.3 283.8,229.0 284.4,226.7 284.9,224.5 285.4,222.4 285.9,220.5 286.3,218.8 286.6,217.3 286.9,216.2" fill="#f6e3e0" fill-opacity="1"/>
<polygon points="283.3,215.5 283.2,216.5 283.0,217.7 282.7,219.1 282.5,220.7 282.2,222.4 281.9,224.2 281.5,226.1 281.2,228.1 280.9,230.1 280.5,232.2 280.2,234.2 279.9,236.2 279.5,238.1 279.2,239.9 279.0,241.7 278.7,243.4 278.4,245.0 278.1,246.7 277.8,248.4 277.5,250.1 277.2,251.8 276.9,253.6 276.7,255.3 276.4,257.2 276.1,259.1 275.8,261.1 275.6,263.2 275.3,265.4 275.1,267.7 274.8,270.3 274.5,273.1 274.3,276.1 274.0,279.1 273.8,282.1 273.5,285.2 273.3,288.2 273.1,291.0 272.9,293.7 272.7,296.2 272.5,298.4 272.4,300.2 272.3,301.7 272.4,303.0 273.1,304.2 274.1,305.0 275.3,305.3 276.6,305.2 277.8,304.5 278.6,303.5 278.9,302.3 279.1,300.7 279.2,298.9 279.3,296.7 279.5,294.2 279.7,291.5 279.9,288.6 280.1,285.7 280.3,282.6 280.5,279.6 280.8,276.6 281.0,273.7 281.2,270.9 281.5,268.4 281.7,266.0 281.9,263.9 282.2,261.9 282.4,260.0 282.7,258.1 282.9,256.3 283.2,254.5 283.4,252.8 283.7,251.1 284.0,249.4 284.3,247.8 284.5,246.1 284.8,244.4 285.1,242.6 285.4,240.9 285.6,239.1 285.9,237.1 286.3,235.2 286.6,233.1 286.9,231.1 287.2,229.1 287.5,227.1 287.8,225.2 288.1,223.4 288.4,221.7 288.7,220.1 288.9,218.7 289.1,217.5 289.3,216.5" fill="#8e2f2b" fill-opacity="1"/>
<polygon points="285.1,215.3 284.8,215.8 284.4,216.4 284.0,217.1 283.5,217.9 282.9,218.8 282.4,219.7 281.7,220.7 281.1,221.8 280.4,222.9 279.8,224.2 279.1,225.4 278.5,226.8 277.8,228.2 277.2,229.7 276.6,231.2 275.9,232.9 275.3,234.6 274.7,236.5 274.0,238.4 273.4,240.4 272.8,242.4 272.1,244.5 271.5,246.5 270.8,248.5 270.2,250.6 269.6,252.5 268.9,254.5 268.3,256.3 267.7,258.2 267.1,260.0 266.5,261.7 265.9,263.5 265.3,265.3 264.7,267.0 264.1,268.8 263.5,270.5 262.9,272.2 262.3,274.0 261.7,275.7 261.1,277.4 260.5,279.2 259.9,280.9 259.2,282.7 258.6,284.6 257.9,286.6 257.1,288.6 256.4,290.6 255.7,292.6 254.9,294.6 254.2,296.5 253.6,298.4 252.9,300.1 252.4,301.7 251.8,303.1 251.4,304.3 251.0,305.3 251.0,305.9 251.1,306.5 251.5,306.9 252.0,307.3 252.6,307.3 253.2,307.2 253.6,306.8 254.0,306.3 254.3,305.3 254.8,304.1 255.3,302.7 255.8,301.1 256.5,299.4 257.1,297.6 257.8,295.7 258.5,293.7 259.3,291.6 260.0,289.6 260.7,287.6 261.4,285.6 262.1,283.7 262.7,281.9 263.3,280.2 263.9,278.4 264.5,276.7 265.1,274.9 265.7,273.2 266.3,271.5 266.9,269.7 267.5,268.0 268.1,266.2 268.7,264.5 269.3,262.7 269.9,260.9 270.5,259.1 271.1,257.3 271.7,255.4 272.3,253.4 273.0,251.4 273.6,249.4 274.2,247.4 274.9,245.3 275.5,243.3 276.2,241.3 276.8,239.3 277.4,237.4 278.0,235.6 278.6,233.9 279.2,232.2 279.8,230.7 280.4,229.3 281.0,228.0 281.6,226.7 282.3,225.5 282.9,224.3 283.5,223.2 284.2,222.2 284.8,221.2 285.3,220.3 285.9,219.4 286.4,218.6 286.8,217.9 287.2,217.3 287.5,216.7" fill="#dc9c88" fill-opacity="1"/>
<polygon points="285.7,215.7 285.2,216.7 284.6,217.8 283.9,219.2 283.1,220.7 282.3,222.4 281.3,224.2 280.4,226.0 279.4,227.9 278.4,229.9 277.3,231.9 276.3,233.9 275.3,235.9 274.3,237.8 273.4,239.7 272.5,241.5 271.6,243.4 270.7,245.3 269.8,247.2 268.8,249.1 267.9,251.0 267.0,252.9 266.1,254.9 265.1,256.8 264.2,258.8 263.2,260.8 262.3,262.8 261.4,264.7 260.4,266.7 259.4,268.8 258.4,271.0 257.3,273.3 256.2,275.6 255.1,278.0 254.0,280.4 252.8,282.7 251.8,285.0 250.8,287.2 249.8,289.2 248.9,291.1 248.1,292.7 247.5,294.2 246.9,295.3 246.9,295.6 246.9,295.8 247.0,296.0 247.2,296.2 247.5,296.2 247.7,296.2 247.9,296.1 248.1,295.9 248.6,294.7 249.3,293.3 250.1,291.6 251.0,289.7 251.9,287.7 253.0,285.5 254.0,283.3 255.1,280.9 256.2,278.5 257.4,276.2 258.5,273.8 259.6,271.5 260.6,269.3 261.6,267.3 262.5,265.3 263.5,263.3 264.4,261.3 265.4,259.4 266.3,257.4 267.2,255.4 268.2,253.5 269.1,251.6 270.0,249.6 270.9,247.7 271.9,245.8 272.8,244.0 273.7,242.1 274.6,240.3 275.5,238.4 276.5,236.5 277.5,234.5 278.5,232.5 279.5,230.5 280.5,228.5 281.5,226.6 282.5,224.7 283.4,223.0 284.3,221.3 285.1,219.8 285.8,218.4 286.4,217.3 286.9,216.3" fill="#f6e3e0" fill-opacity="1"/>
<polygon points="285.7,215.7 285.2,216.6 284.6,217.8 283.8,219.1 283.0,220.6 282.1,222.2 281.1,224.0 280.1,225.8 279.0,227.7 277.9,229.7 276.8,231.7 275.7,233.7 274.6,235.7 273.5,237.7 272.4,239.7 271.4,241.6 270.3,243.6 269.2,245.6 268.1,247.7 266.9,249.7 265.8,251.8 264.6,254.0 263.4,256.1 262.3,258.3 261.1,260.5 259.9,262.8 258.7,265.1 257.6,267.4 256.4,269.7 255.2,272.2 254.0,274.8 252.6,277.7 251.3,280.6 249.9,283.6 248.6,286.5 247.3,289.5 246.0,292.4 244.7,295.2 243.6,297.7 242.5,300.1 241.6,302.2 240.8,304.1 240.1,305.5 240.1,305.8 240.1,306.0 240.2,306.2 240.4,306.4 240.7,306.4 240.9,306.4 241.1,306.3 241.3,306.1 242.0,304.6 242.8,302.8 243.7,300.7 244.8,298.3 245.9,295.7 247.2,292.9 248.4,290.0 249.8,287.1 251.1,284.1 252.5,281.1 253.8,278.2 255.1,275.4 256.4,272.7 257.6,270.3 258.7,268.0 259.9,265.7 261.1,263.4 262.2,261.1 263.4,258.9 264.6,256.7 265.8,254.6 266.9,252.4 268.1,250.3 269.2,248.3 270.3,246.2 271.4,244.2 272.5,242.3 273.6,240.3 274.6,238.4 275.7,236.4 276.8,234.3 278.0,232.3 279.1,230.3 280.2,228.4 281.2,226.4 282.2,224.6 283.2,222.9 284.1,221.3 284.9,219.8 285.7,218.4 286.3,217.3 286.9,216.3" fill="#f6e3e0" fill-opacity="1"/>
<polygon points="284.7,214.5 284.3,214.9 283.9,215.4 283.3,216.0 282.7,216.6 282.1,217.3 281.4,218.0 280.6,218.8 279.9,219.7 279.1,220.5 278.3,221.4 277.6,222.3 276.8,223.3 276.1,224.2 275.4,225.1 274.8,226.1 274.2,227.0 273.6,228.0 273.1,229.0 272.6,230.0 272.0,231.0 271.5,232.0 271.0,233.0 270.5,234.0 270.0,235.1 269.4,236.1 268.9,237.1 268.3,238.2 267.7,239.2 267.1,240.3 266.4,241.3 265.8,242.4 265.1,243.4 264.4,244.5 263.7,245.5 263.0,246.6 262.2,247.8 261.5,249.0 260.7,250.2 259.9,251.4 259.1,252.8 258.3,254.1 257.4,255.6 256.5,257.2 255.5,258.9 254.5,260.8 253.4,262.8 252.2,264.8 251.1,266.9 250.0,268.9 248.9,271.0 247.8,272.9 246.8,274.7 245.9,276.4 245.1,277.9 244.4,279.2 243.9,280.2 243.6,281.1 243.7,282.1 244.1,283.0 244.9,283.6 245.8,283.9 246.8,283.8 247.7,283.4 248.3,282.6 248.9,281.6 249.6,280.3 250.4,278.8 251.3,277.1 252.2,275.3 253.3,273.3 254.4,271.3 255.5,269.2 256.6,267.2 257.7,265.1 258.7,263.2 259.8,261.3 260.7,259.6 261.6,258.0 262.4,256.6 263.2,255.2 264.0,254.0 264.8,252.7 265.5,251.5 266.2,250.4 267.0,249.2 267.7,248.1 268.4,247.0 269.1,245.9 269.7,244.9 270.4,243.8 271.1,242.7 271.7,241.6 272.4,240.5 273.0,239.3 273.5,238.3 274.1,237.2 274.6,236.1 275.1,235.1 275.6,234.1 276.1,233.1 276.6,232.1 277.1,231.2 277.6,230.2 278.1,229.4 278.6,228.5 279.2,227.7 279.7,226.9 280.4,226.0 281.0,225.2 281.7,224.3 282.5,223.5 283.2,222.6 283.9,221.8 284.6,221.1 285.3,220.3 286.0,219.6 286.5,219.0 287.1,218.4 287.6,217.9 287.9,217.5" fill="#b4543f" fill-opacity="1"/>
<polygon points="285.3,215.1 284.9,215.6 284.4,216.2 283.8,216.8 283.1,217.6 282.4,218.4 281.6,219.3 280.7,220.2 279.9,221.1 279.0,222.1 278.2,223.1 277.3,224.1 276.5,225.0 275.7,226.0 275.0,226.9 274.3,227.8 273.6,228.6 273.0,229.5 272.4,230.4 271.7,231.3 271.1,232.1 270.5,233.0 269.9,233.9 269.3,234.8 268.7,235.7 268.0,236.7 267.4,237.6 266.7,238.6 266.0,239.6 265.3,240.7 264.5,241.8 263.7,242.9 263.0,244.0 262.2,245.2 261.4,246.3 260.5,247.5 259.7,248.7 258.9,249.9 258.0,251.1 257.2,252.4 256.3,253.6 255.5,254.8 254.6,256.0 253.7,257.2 252.8,258.5 251.9,259.8 251.0,261.0 250.1,262.3 249.1,263.6 248.2,264.9 247.2,266.2 246.3,267.5 245.4,268.8 244.5,270.1 243.6,271.3 242.7,272.6 241.9,273.8 241.0,275.1 240.2,276.4 239.4,277.6 238.6,278.9 237.8,280.2 237.0,281.5 236.2,282.8 235.5,284.0 234.8,285.2 234.1,286.3 233.4,287.4 232.8,288.4 232.2,289.4 231.7,290.3 231.2,291.1 230.8,291.9 230.3,292.6 230.0,293.2 229.6,293.8 229.3,294.4 229.0,294.9 228.7,295.4 228.5,295.8 228.3,296.2 228.1,296.5 227.9,296.9 227.7,297.1 227.6,297.4 227.4,297.9 227.4,298.5 227.7,299.0 228.1,299.3 228.6,299.5 229.2,299.5 229.7,299.2 230.0,298.8 230.2,298.5 230.3,298.2 230.5,297.9 230.7,297.5 230.9,297.2 231.2,296.7 231.4,296.3 231.7,295.8 232.0,295.2 232.4,294.6 232.8,294.0 233.2,293.3 233.6,292.5 234.1,291.7 234.6,290.8 235.2,289.9 235.8,288.8 236.5,287.7 237.1,286.6 237.9,285.4 238.6,284.2 239.4,282.9 240.1,281.7 240.9,280.4 241.7,279.1 242.5,277.8 243.3,276.6 244.1,275.4 245.0,274.1 245.8,272.9 246.7,271.6 247.6,270.4 248.5,269.1 249.4,267.8 250.4,266.5 251.3,265.2 252.3,263.9 253.2,262.6 254.1,261.3 255.0,260.1 255.9,258.8 256.8,257.6 257.7,256.4 258.5,255.1 259.4,253.9 260.2,252.7 261.1,251.5 261.9,250.2 262.7,249.0 263.6,247.9 264.4,246.7 265.2,245.5 265.9,244.4 266.7,243.3 267.5,242.2 268.2,241.2 268.9,240.1 269.6,239.1 270.2,238.2 270.9,237.2 271.5,236.3 272.1,235.4 272.7,234.5 273.3,233.6 273.9,232.8 274.5,231.9 275.1,231.1 275.7,230.2 276.4,229.4 277.0,228.5 277.7,227.6 278.5,226.7 279.3,225.8 280.1,224.8 281.0,223.8 281.8,222.9 282.7,221.9 283.5,221.0 284.3,220.2 285.0,219.3 285.7,218.6 286.3,217.9 286.8,217.3 287.3,216.9" fill="#e0a08e" fill-opacity="1"/>
<polygon points="285.8,215.6 285.2,216.3 284.4,217.2 283.6,218.2 282.6,219.4 281.5,220.6 280.3,222.0 279.1,223.4 277.9,224.8 276.7,226.2 275.4,227.6 274.2,229.0 273.1,230.3 272.0,231.5 270.9,232.5 270.0,233.5 269.0,234.4 268.1,235.3 267.2,236.1 266.3,236.9 265.4,237.7 264.5,238.4 263.7,239.2 262.8,239.9 261.9,240.7 261.0,241.5 260.1,242.3 259.2,243.1 258.3,244.0 257.4,245.0 256.5,245.9 255.6,246.8 254.7,247.8 253.8,248.8 252.9,249.8 252.0,250.8 251.1,251.8 250.1,252.8 249.2,253.8 248.3,254.9 247.4,255.9 246.5,257.0 245.6,258.1 244.7,259.2 243.8,260.3 242.9,261.5 242.0,262.6 241.1,263.8 240.2,265.0 239.3,266.2 238.4,267.3 237.5,268.5 236.6,269.7 235.7,270.9 234.8,272.1 233.9,273.3 233.0,274.5 232.1,275.7 231.1,277.0 230.1,278.3 229.1,279.6 228.0,280.9 227.0,282.3 226.0,283.6 225.0,284.9 224.0,286.1 223.1,287.3 222.3,288.3 221.5,289.3 220.9,290.2 220.3,291.0 219.8,291.7 219.4,292.2 219.1,292.6 218.8,293.0 218.6,293.3 218.5,293.5 218.4,293.7 218.3,293.9 218.3,294.0 218.2,294.1 218.2,294.2 218.2,294.2 218.2,294.2 218.1,294.3 218.1,294.5 218.1,294.8 218.2,295.0 218.4,295.2 218.6,295.2 218.9,295.2 219.1,295.1 219.3,294.9 219.3,294.8 219.4,294.7 219.4,294.6 219.5,294.5 219.5,294.5 219.5,294.4 219.5,294.3 219.6,294.2 219.7,294.0 219.9,293.7 220.1,293.4 220.5,293.0 220.8,292.4 221.3,291.8 221.9,291.0 222.6,290.1 223.3,289.1 224.2,288.0 225.1,286.9 226.0,285.7 227.0,284.4 228.0,283.1 229.1,281.7 230.1,280.4 231.1,279.1 232.1,277.8 233.1,276.5 234.0,275.3 234.9,274.1 235.8,272.9 236.7,271.7 237.6,270.5 238.5,269.3 239.4,268.1 240.3,266.9 241.2,265.7 242.1,264.6 243.0,263.4 243.9,262.3 244.8,261.1 245.7,260.0 246.6,258.9 247.5,257.8 248.4,256.8 249.3,255.7 250.2,254.7 251.1,253.7 252.0,252.6 252.9,251.6 253.8,250.6 254.7,249.7 255.6,248.7 256.6,247.7 257.5,246.8 258.4,245.9 259.3,245.0 260.1,244.1 261.0,243.2 261.9,242.5 262.8,241.7 263.6,240.9 264.5,240.2 265.4,239.4 266.3,238.7 267.2,237.9 268.1,237.1 269.0,236.3 269.9,235.4 270.9,234.4 271.9,233.5 272.9,232.4 274.0,231.1 275.2,229.8 276.4,228.5 277.7,227.1 278.9,225.6 280.1,224.2 281.3,222.8 282.5,221.5 283.6,220.2 284.5,219.0 285.4,218.0 286.2,217.1 286.8,216.4" fill="#fbf1ef" fill-opacity="1"/>
<polygon points="285.1,214.4 284.3,215.0 283.4,215.7 282.3,216.6 281.1,217.5 279.8,218.6 278.4,219.7 276.9,220.8 275.4,222.0 273.9,223.2 272.4,224.3 270.9,225.5 269.6,226.6 268.3,227.7 267.1,228.6 266.0,229.5 265.0,230.4 264.0,231.2 263.1,232.0 262.1,232.8 261.2,233.6 260.4,234.4 259.5,235.1 258.6,235.9 257.8,236.7 256.9,237.5 256.0,238.4 255.1,239.2 254.2,240.1 253.3,241.1 252.4,242.0 251.5,242.9 250.6,243.9 249.6,244.9 248.7,245.9 247.8,246.9 246.9,247.9 246.0,248.9 245.0,250.0 244.1,251.0 243.2,252.1 242.3,253.2 241.4,254.3 240.5,255.4 239.5,256.5 238.6,257.6 237.7,258.8 236.8,260.0 235.9,261.2 235.0,262.4 234.1,263.6 233.2,264.8 232.3,266.0 231.4,267.1 230.5,268.3 229.6,269.5 228.7,270.7 227.8,271.9 226.8,273.1 225.8,274.4 224.8,275.8 223.7,277.1 222.7,278.4 221.7,279.7 220.7,281.0 219.8,282.2 218.9,283.4 218.0,284.5 217.2,285.5 216.6,286.4 215.9,287.2 215.4,287.9 215.0,288.4 214.6,288.9 214.3,289.4 214.1,289.7 213.9,290.0 213.7,290.3 213.6,290.5 213.5,290.7 213.4,290.8 213.4,290.9 213.3,291.0 213.3,291.0 213.3,291.1 212.9,291.9 212.9,292.7 213.3,293.5 213.9,294.1 214.7,294.5 215.5,294.5 216.3,294.1 216.9,293.5 217.0,293.3 217.2,293.2 217.2,293.0 217.3,292.9 217.3,292.8 217.4,292.7 217.5,292.6 217.6,292.4 217.7,292.2 217.9,291.9 218.2,291.5 218.5,291.0 219.0,290.5 219.5,289.8 220.0,289.0 220.7,288.1 221.5,287.1 222.3,286.0 223.2,284.9 224.2,283.6 225.1,282.4 226.2,281.1 227.2,279.7 228.2,278.4 229.2,277.1 230.2,275.8 231.2,274.5 232.1,273.3 233.0,272.1 233.9,270.9 234.8,269.7 235.7,268.5 236.6,267.3 237.5,266.1 238.4,264.9 239.3,263.7 240.2,262.6 241.1,261.4 242.0,260.3 242.9,259.1 243.7,258.0 244.6,256.9 245.5,255.9 246.4,254.8 247.3,253.8 248.2,252.7 249.1,251.7 250.0,250.7 250.9,249.7 251.8,248.7 252.7,247.7 253.6,246.8 254.5,245.8 255.4,244.9 256.3,244.0 257.2,243.1 258.0,242.2 258.9,241.3 259.8,240.5 260.6,239.7 261.4,239.0 262.3,238.2 263.1,237.5 264.0,236.7 264.8,235.9 265.7,235.1 266.7,234.3 267.6,233.5 268.6,232.7 269.7,231.8 270.9,230.8 272.1,229.8 273.5,228.7 274.9,227.5 276.4,226.3 277.9,225.2 279.4,224.0 280.9,222.8 282.3,221.7 283.6,220.7 284.8,219.7 285.9,218.9 286.8,218.2 287.5,217.6" fill="#8a2a27" fill-opacity="1"/>
<polygon points="285.4,215.1 284.8,215.7 283.9,216.5 282.9,217.5 281.8,218.5 280.6,219.7 279.4,220.9 278.0,222.2 276.7,223.5 275.3,224.8 273.9,226.1 272.6,227.3 271.3,228.5 270.1,229.6 269.0,230.7 268.0,231.6 267.0,232.5 266.1,233.3 265.2,234.2 264.3,234.9 263.4,235.7 262.5,236.5 261.7,237.3 260.8,238.0 259.9,238.8 259.1,239.6 258.2,240.4 257.3,241.3 256.4,242.2 255.5,243.1 254.6,244.1 253.6,245.0 252.7,246.0 251.8,246.9 250.9,247.9 250.0,248.9 249.1,249.9 248.2,251.0 247.2,252.0 246.3,253.0 245.4,254.1 244.5,255.2 243.6,256.3 242.7,257.4 241.8,258.5 240.9,259.6 240.0,260.8 239.1,262.0 238.2,263.2 237.2,264.4 236.3,265.5 235.4,266.7 234.5,267.9 233.6,269.1 232.7,270.3 231.8,271.5 230.9,272.7 230.0,273.9 229.0,275.2 228.0,276.5 227.0,277.8 226.0,279.1 225.0,280.4 224.0,281.7 223.0,283.0 222.0,284.3 221.1,285.4 220.3,286.5 219.5,287.5 218.8,288.4 218.2,289.2 217.7,289.8 217.3,290.4 217.0,290.9 216.7,291.2 216.5,291.5 216.3,291.8 216.2,292.0 216.1,292.2 216.0,292.3 215.9,292.4 215.9,292.5 215.9,292.5 215.8,292.6 215.8,292.6 215.6,293.1 215.6,293.7 215.8,294.1 216.1,294.5 216.6,294.7 217.2,294.7 217.6,294.5 218.0,294.2 218.1,294.0 218.2,293.9 218.2,293.8 218.3,293.7 218.3,293.6 218.4,293.6 218.4,293.5 218.5,293.3 218.7,293.1 218.9,292.8 219.1,292.5 219.5,292.0 219.9,291.5 220.4,290.8 221.0,290.0 221.6,289.1 222.4,288.1 223.2,287.1 224.1,285.9 225.1,284.7 226.1,283.4 227.1,282.1 228.1,280.7 229.1,279.4 230.2,278.1 231.2,276.8 232.1,275.5 233.1,274.3 234.0,273.1 234.9,271.9 235.8,270.7 236.7,269.5 237.6,268.3 238.5,267.1 239.4,265.9 240.2,264.8 241.1,263.6 242.0,262.4 242.9,261.3 243.8,260.1 244.7,259.0 245.6,257.9 246.5,256.9 247.4,255.8 248.3,254.7 249.2,253.7 250.1,252.7 251.0,251.7 251.9,250.7 252.8,249.7 253.7,248.7 254.6,247.7 255.5,246.8 256.4,245.8 257.3,244.9 258.2,244.0 259.1,243.1 260.0,242.3 260.8,241.5 261.7,240.7 262.5,239.9 263.4,239.2 264.2,238.4 265.1,237.6 266.0,236.9 266.9,236.1 267.8,235.2 268.8,234.4 269.7,233.5 270.8,232.5 271.9,231.5 273.1,230.4 274.3,229.2 275.7,227.9 277.0,226.6 278.4,225.3 279.8,224.0 281.1,222.7 282.4,221.5 283.6,220.3 284.7,219.3 285.6,218.4 286.5,217.5 287.2,216.9" fill="#c0705f" fill-opacity="0.9"/>
<text x="37.1" y="278.6" font-size="5.5" fill="#1e1e1e" textLength="10.7" lengthAdjust="spacingAndGlyphs">Cuba</text>
<text x="275.6" y="211.2" font-size="5.5" fill="#1e1e1e" textLength="13.0" lengthAdjust="spacingAndGlyphs">Italy</text>
<text x="310.0" y="221.4" font-size="5.5" fill="#1e1e1e" textLength="14.6" lengthAdjust="spacingAndGlyphs">Albania</text>
<text x="358.0" y="239.8" font-size="5.5" fill="#1e1e1e" textLength="10.8" lengthAdjust="spacingAndGlyphs">Syria</text>
<text x="215.8" y="248.5" font-size="5.5" fill="#1e1e1e" textLength="18.0" lengthAdjust="spacingAndGlyphs">Morocco</text>
<text x="249.0" y="259.3" font-size="5.5" fill="#1e1e1e" textLength="14.5" lengthAdjust="spacingAndGlyphs">Algeria</text>
<text x="244.1" y="282.2" font-size="5.5" fill="#1e1e1e" textLength="7.8" lengthAdjust="spacingAndGlyphs">Mali</text>
<text x="194.6" y="288.0" font-size="5.5" fill="#1e1e1e" textLength="16.9" lengthAdjust="spacingAndGlyphs">Senegal</text>
<text x="186.3" y="295.0" font-size="5.5" fill="#1e1e1e" textLength="25.6" lengthAdjust="spacingAndGlyphs">The Gambia</text>
<text x="184.8" y="301.7" font-size="5.5" fill="#1e1e1e" textLength="30.7" lengthAdjust="spacingAndGlyphs">Guinea-Bissau</text>
<text x="219.0" y="300.5" font-size="5.5" fill="#1e1e1e" textLength="14.7" lengthAdjust="spacingAndGlyphs">Guinea</text>
<text x="242.4" y="295.3" font-size="5.5" fill="#1e1e1e" textLength="16.4" lengthAdjust="spacingAndGlyphs">Burkina</text>
<text x="243.3" y="300.8" font-size="5.5" fill="#1e1e1e" textLength="8.6" lengthAdjust="spacingAndGlyphs">Faso</text>
<text x="234.6" y="311.5" font-size="5.5" fill="#1e1e1e" textLength="10.7" lengthAdjust="spacingAndGlyphs">Ivory</text>
<text x="235.1" y="316.8" font-size="5.5" fill="#1e1e1e" textLength="11.3" lengthAdjust="spacingAndGlyphs">Coast</text>
<text x="249.0" y="314.2" font-size="5.5" fill="#1e1e1e" textLength="12.2" lengthAdjust="spacingAndGlyphs">Ghana</text>
<text x="257.1" y="304.0" font-size="5.5" fill="#1e1e1e" textLength="11.2" lengthAdjust="spacingAndGlyphs">Benin</text>
<text x="267.8" y="310.0" font-size="5.5" fill="#1e1e1e" textLength="13.5" lengthAdjust="spacingAndGlyphs">Nigeria</text>
<text x="322.0" y="299.7" font-size="5.5" fill="#1e1e1e" textLength="12.7" lengthAdjust="spacingAndGlyphs">Sudan</text>
<text x="345.3" y="329.3" font-size="5.5" fill="#1e1e1e" textLength="13.1" lengthAdjust="spacingAndGlyphs">Kenya</text>
<text x="482.4" y="275.5" font-size="5.5" fill="#1e1e1e" textLength="24.1" lengthAdjust="spacingAndGlyphs">Bangladesh</text>
</g>
<line x1="48.5" y1="36.2" x2="81.2" y2="21.1" stroke="#5a5a5a" stroke-width="0.6" />
<line x1="81.2" y1="21.1" x2="170.6" y2="28.3" stroke="#5a5a5a" stroke-width="0.6" />
<line x1="49.2" y1="56.6" x2="81.2" y2="39.0" stroke="#5a5a5a" stroke-width="0.6" />
<line x1="81.2" y1="39.0" x2="169.7" y2="46.7" stroke="#5a5a5a" stroke-width="0.6" />
<line x1="49.8" y1="76.8" x2="81.2" y2="56.6" stroke="#5a5a5a" stroke-width="0.6" />
<line x1="81.2" y1="56.6" x2="168.9" y2="65.0" stroke="#5a5a5a" stroke-width="0.6" />
<line x1="50.5" y1="96.5" x2="81.2" y2="74.2" stroke="#5a5a5a" stroke-width="0.6" />
<line x1="81.2" y1="74.2" x2="168.1" y2="83.3" stroke="#5a5a5a" stroke-width="0.6" />
<line x1="51.1" y1="115.8" x2="81.2" y2="91.5" stroke="#111" stroke-width="1" />
<line x1="108.0" y1="94.5" x2="167.2" y2="101.3" stroke="#111" stroke-width="1" />
<polygon points="81.8,36.5 90.5,37.0 90.5,95.8 81.8,94.5" fill="#818181" />
<polygon points="90.5,37.0 93.3,34.9 93.3,94.0 90.5,95.8" fill="#5c5c5c" />
<polygon points="81.8,36.5 90.5,37.0 93.3,34.9 84.6,34.2" fill="#6f6f6f" />
<polygon points="103.3,44.0 112.5,44.7 112.5,99.0 103.3,97.8" fill="#818181" />
<polygon points="112.5,44.7 115.3,42.6 115.3,97.3 112.5,99.0" fill="#5c5c5c" />
<polygon points="103.3,44.0 112.5,44.7 115.3,42.6 106.4,41.6" fill="#6f6f6f" />
<polygon points="126.1,35.5 135.4,36.2 135.4,102.8 126.1,101.5" fill="#818181" />
<polygon points="135.4,36.2 137.6,34.2 137.6,101.0 135.4,102.8" fill="#5c5c5c" />
<polygon points="126.1,35.5 135.4,36.2 137.6,34.2 128.5,33.5" fill="#6f6f6f" />
<polygon points="149.3,60.4 158.6,61.1 158.6,106.5 149.3,105.2" fill="#818181" />
<polygon points="158.6,61.1 160.8,59.1 160.8,104.8 158.6,106.5" fill="#5c5c5c" />
<polygon points="149.3,60.4 158.6,61.1 160.8,59.1 151.5,58.6" fill="#6f6f6f" />
<polygon points="72.6,91.6 82.5,92.6 82.5,105.3 72.6,103.9" fill="#b9b9b9" />
<polygon points="82.5,92.6 84.9,90.2 84.9,103.2 82.5,105.3" fill="#999999" />
<polygon points="72.6,91.6 82.5,92.6 84.9,90.2 75.4,88.8" fill="#ababab" />
<polygon points="94.9,90.8 104.6,91.6 104.6,108.8 94.9,107.1" fill="#b9b9b9" />
<polygon points="104.6,91.6 107.1,89.1 107.1,106.7 104.6,108.8" fill="#999999" />
<polygon points="94.9,90.8 104.6,91.6 107.1,89.1 97.7,88.0" fill="#ababab" />
<polygon points="118.1,76.8 127.1,77.6 127.1,111.1 118.1,109.8" fill="#b9b9b9" />
<polygon points="127.1,77.6 130.0,74.2 130.0,108.6 127.1,111.1" fill="#999999" />
<polygon points="118.1,76.8 127.1,77.6 130.0,74.2 121.2,73.0" fill="#ababab" />
<polygon points="142.0,93.7 150.4,94.9 150.4,115.7 142.0,114.3" fill="#b9b9b9" />
<polygon points="150.4,94.9 152.8,91.7 152.8,113.1 150.4,115.7" fill="#999999" />
<polygon points="142.0,93.7 150.4,94.9 152.8,91.7 144.8,90.6" fill="#ababab" />
<polygon points="61.3,98.2 72.6,99.2 72.6,114.4 61.3,112.7" fill="#4b4b4b" />
<polygon points="72.6,99.2 74.7,96.8 74.7,112.3 72.6,114.4" fill="#383838" />
<polygon points="61.3,98.2 72.6,99.2 74.7,96.8 64.2,95.4" fill="#565656" />
<polygon points="85.3,115.1 95.1,117.0 95.1,118.4 85.3,116.5" fill="#4b4b4b" />
<polygon points="95.1,117.0 98.0,113.7 98.0,115.1 95.1,118.4" fill="#383838" />
<polygon points="85.3,115.1 95.1,117.0 98.0,113.7 88.8,111.9" fill="#565656" />
<polygon points="109.2,120.1 119.8,122.2 119.8,123.6 109.2,121.5" fill="#4b4b4b" />
<polygon points="119.8,122.2 122.6,118.4 122.6,119.8 119.8,123.6" fill="#383838" />
<polygon points="109.2,120.1 119.8,122.2 122.6,118.4 112.7,116.3" fill="#565656" />
<polygon points="134.7,123.3 145.3,125.8 145.3,127.2 134.7,124.7" fill="#4b4b4b" />
<polygon points="145.3,125.8 147.7,121.6 147.7,123.0 145.3,127.2" fill="#383838" />
<polygon points="134.7,123.3 145.3,125.8 147.7,121.6 137.6,119.6" fill="#565656" />
<line x1="48.4" y1="33.2" x2="51.1" y2="116.3" stroke="#111" stroke-width="1.1" />
<line x1="45.7" y1="36.2" x2="49.0" y2="36.2" stroke="#111" stroke-width="0.9" />
<line x1="46.4" y1="56.6" x2="49.7" y2="56.6" stroke="#111" stroke-width="0.9" />
<line x1="47.0" y1="76.8" x2="50.3" y2="76.8" stroke="#111" stroke-width="0.9" />
<line x1="47.7" y1="96.5" x2="51.0" y2="96.5" stroke="#111" stroke-width="0.9" />
<line x1="48.3" y1="115.8" x2="51.6" y2="115.8" stroke="#111" stroke-width="0.9" />
<line x1="50.8" y1="116.3" x2="151.5" y2="133.6" stroke="#111" stroke-width="1.1" />
<line x1="50.8" y1="116.3" x2="50.5" y2="119.1" stroke="#111" stroke-width="0.9" />
<line x1="74.3" y1="120.4" x2="74.0" y2="123.2" stroke="#111" stroke-width="0.9" />
<line x1="99.3" y1="124.8" x2="99.0" y2="127.6" stroke="#111" stroke-width="0.9" />
<line x1="124.7" y1="129.1" x2="124.4" y2="131.9" stroke="#111" stroke-width="0.9" />
<line x1="151.5" y1="133.6" x2="151.2" y2="136.4" stroke="#111" stroke-width="0.9" />
<line x1="151.0" y1="134.0" x2="167.4" y2="101.3" stroke="#111" stroke-width="1.1" />
<line x1="166.7" y1="101.3" x2="170.6" y2="101.3" stroke="#111" stroke-width="0.9" />
<line x1="162.3" y1="110.4" x2="166.2" y2="110.4" stroke="#111" stroke-width="0.9" />
<line x1="156.9" y1="121.3" x2="160.8" y2="121.3" stroke="#111" stroke-width="0.9" />
<line x1="150.7" y1="133.6" x2="154.6" y2="133.6" stroke="#111" stroke-width="0.9" />
<text x="10.1" y="16.6" font-size="10.8" text-anchor="start" fill="#1a1a1a" textLength="6.9" lengthAdjust="spacingAndGlyphs" >A</text>
<text x="20.3" y="38.8" font-size="6.6" text-anchor="start" fill="#1a1a1a" textLength="21.6" lengthAdjust="spacingAndGlyphs" >200,000</text>
<text x="20.8" y="58.8" font-size="6.6" text-anchor="start" fill="#1a1a1a" textLength="21.1" lengthAdjust="spacingAndGlyphs" >150,000</text>
<text x="20.8" y="79.0" font-size="6.6" text-anchor="start" fill="#1a1a1a" textLength="21.1" lengthAdjust="spacingAndGlyphs" >100,000</text>
<text x="24.8" y="99.3" font-size="6.6" text-anchor="start" fill="#1a1a1a" textLength="17.1" lengthAdjust="spacingAndGlyphs" >50,000</text>
<text x="39.2" y="117.8" font-size="6.6" text-anchor="start" fill="#1a1a1a" textLength="2.7" lengthAdjust="spacingAndGlyphs" >0</text>
<text transform="translate(12.6,77.0) rotate(-90)" font-size="9.0" text-anchor="middle" fill="#1a1a1a" textLength="24.6" lengthAdjust="spacingAndGlyphs">Counts</text>
<text x="56.5" y="128.5" font-size="6.6" text-anchor="start" fill="#1a1a1a" textLength="13.5" lengthAdjust="spacingAndGlyphs" >2014</text>
<text x="80.1" y="133.1" font-size="6.6" text-anchor="start" fill="#1a1a1a" textLength="13.4" lengthAdjust="spacingAndGlyphs" >2015</text>
<text x="102.7" y="137.3" font-size="6.6" text-anchor="start" fill="#1a1a1a" textLength="13.4" lengthAdjust="spacingAndGlyphs" >2016</text>
<text x="130.0" y="142.3" font-size="6.6" text-anchor="start" fill="#1a1a1a" textLength="13.8" lengthAdjust="spacingAndGlyphs" >2017</text>
<text x="91.2" y="147.0" font-size="9.0" text-anchor="start" fill="#1a1a1a" textLength="15.7" lengthAdjust="spacingAndGlyphs" >Year</text>
<text x="173.4" y="107.6" font-size="5.4" text-anchor="start" fill="#1a1a1a" textLength="37.4" lengthAdjust="spacingAndGlyphs" >Refugees in Itay</text>
<text x="168.2" y="116.5" font-size="5.4" text-anchor="start" fill="#1a1a1a" textLength="34.9" lengthAdjust="spacingAndGlyphs" >Refugees from</text>
<text x="168.8" y="123.8" font-size="5.4" text-anchor="start" fill="#1a1a1a" textLength="40.9" lengthAdjust="spacingAndGlyphs" >Sub-Saharan area</text>
<text x="161.5" y="133.6" font-size="5.4" text-anchor="start" fill="#1a1a1a" textLength="47.3" lengthAdjust="spacingAndGlyphs" >Refugees from Syria</text>
<polyline points="265.3,83.1 271.5,79.0 513.1,79.0" fill="none" stroke="#727272" stroke-width="0.65"/>
<polyline points="265.3,67.1 271.5,63.2 513.1,63.2" fill="none" stroke="#727272" stroke-width="0.65"/>
<polyline points="265.3,51.0 271.5,47.3 513.1,47.3" fill="none" stroke="#727272" stroke-width="0.65"/>
<polyline points="265.3,35.0 271.5,31.5 513.1,31.5" fill="none" stroke="#727272" stroke-width="0.65"/>
<polyline points="265.3,19.0 271.5,15.6 513.1,15.6" fill="none" stroke="#727272" stroke-width="0.65"/>
<polygon points="265.3,99.1 271.5,94.9 513.1,94.9 507.7,99.1" fill="#e2e2e2" />
<line x1="271.5" y1="94.9" x2="513.1" y2="94.9" stroke="#9a9a9a" stroke-width="0.6" />
<line x1="507.7" y1="98.8" x2="513.1" y2="94.9" stroke="#555" stroke-width="0.8" />
<polygon points="271.7,97.5 277.6,97.5 277.6,94.3 271.7,94.3" fill="#b5352e" />
<polygon points="277.6,97.5 279.0,96.3 279.0,93.1 277.6,94.3" fill="#8e2622" />
<polygon points="271.7,94.3 277.6,94.3 279.0,93.1 273.1,93.1" fill="#c44a42" />
<polygon points="285.1,97.5 291.0,97.5 291.0,94.3 285.1,94.3" fill="#b5352e" />
<polygon points="291.0,97.5 292.4,96.3 292.4,93.1 291.0,94.3" fill="#8e2622" />
<polygon points="285.1,94.3 291.0,94.3 292.4,93.1 286.5,93.1" fill="#c44a42" />
<polygon points="298.5,97.5 304.4,97.5 304.4,94.3 298.5,94.3" fill="#b5352e" />
<polygon points="304.4,97.5 305.8,96.3 305.8,93.1 304.4,94.3" fill="#8e2622" />
<polygon points="298.5,94.3 304.4,94.3 304.4,91.1 298.5,91.1" fill="#2f62a3" />
<polygon points="304.4,94.3 305.8,93.1 305.8,89.9 304.4,91.1" fill="#224a7e" />
<polygon points="298.5,91.1 304.4,91.1 305.8,89.9 299.9,89.9" fill="#4678b8" />
<polygon points="311.9,97.5 317.8,97.5 317.8,94.3 311.9,94.3" fill="#b5352e" />
<polygon points="317.8,97.5 319.2,96.3 319.2,93.1 317.8,94.3" fill="#8e2622" />
<polygon points="311.9,94.3 317.8,94.3 319.2,93.1 313.3,93.1" fill="#c44a42" />
<polygon points="325.3,97.5 331.2,97.5 331.2,94.3 325.3,94.3" fill="#eeb08a" />
<polygon points="331.2,97.5 332.6,96.3 332.6,93.1 331.2,94.3" fill="#cf916c" />
<polygon points="325.3,94.3 331.2,94.3 332.6,93.1 326.8,93.1" fill="#f5c6a6" />
<polygon points="338.7,97.5 344.6,97.5 344.6,94.3 338.7,94.3" fill="#c9dcbc" />
<polygon points="344.6,97.5 346.0,96.3 346.0,93.1 344.6,94.3" fill="#a8bd9b" />
<polygon points="338.7,94.3 344.6,94.3 346.0,93.1 340.1,93.1" fill="#d9e8cf" />
<polygon points="352.1,97.5 358.0,97.5 358.0,94.3 352.1,94.3" fill="#b5352e" />
<polygon points="358.0,97.5 359.4,96.3 359.4,93.1 358.0,94.3" fill="#8e2622" />
<polygon points="352.1,94.3 358.0,94.3 359.4,93.1 353.6,93.1" fill="#c44a42" />
<polygon points="365.5,97.5 371.4,97.5 371.4,55.9 365.5,55.9" fill="#b5352e" />
<polygon points="371.4,97.5 372.8,96.3 372.8,54.8 371.4,55.9" fill="#8e2622" />
<polygon points="365.5,55.9 371.4,55.9 371.4,52.7 365.5,52.7" fill="#eaa9a2" />
<polygon points="371.4,55.9 372.8,54.8 372.8,51.5 371.4,52.7" fill="#c98a84" />
<polygon points="365.5,52.7 371.4,52.7 372.8,51.5 366.9,51.5" fill="#f2c0ba" />
<polygon points="378.9,97.5 384.8,97.5 384.8,94.3 378.9,94.3" fill="#b5352e" />
<polygon points="384.8,97.5 386.2,96.3 386.2,93.1 384.8,94.3" fill="#8e2622" />
<polygon points="378.9,94.3 384.8,94.3 384.8,91.1 378.9,91.1" fill="#cd5f3a" />
<polygon points="384.8,94.3 386.2,93.1 386.2,89.9 384.8,91.1" fill="#a5472a" />
<polygon points="378.9,91.1 384.8,91.1 384.8,87.9 378.9,87.9" fill="#eaa9a2" />
<polygon points="384.8,91.1 386.2,89.9 386.2,86.7 384.8,87.9" fill="#c98a84" />
<polygon points="378.9,87.9 384.8,87.9 384.8,84.7 378.9,84.7" fill="#eeb08a" />
<polygon points="384.8,87.9 386.2,86.7 386.2,83.5 384.8,84.7" fill="#cf916c" />
<polygon points="378.9,84.7 384.8,84.7 386.2,83.5 380.3,83.5" fill="#f5c6a6" />
<polygon points="392.3,97.5 398.2,97.5 398.2,91.1 392.3,91.1" fill="#b5352e" />
<polygon points="398.2,97.5 399.6,96.3 399.6,89.9 398.2,91.1" fill="#8e2622" />
<polygon points="392.3,91.1 398.2,91.1 398.2,87.9 392.3,87.9" fill="#eaa9a2" />
<polygon points="398.2,91.1 399.6,89.9 399.6,86.7 398.2,87.9" fill="#c98a84" />
<polygon points="392.3,87.9 398.2,87.9 399.6,86.7 393.8,86.7" fill="#f2c0ba" />
<polygon points="405.7,97.5 411.6,97.5 411.6,94.3 405.7,94.3" fill="#b5352e" />
<polygon points="411.6,97.5 413.0,96.3 413.0,93.1 411.6,94.3" fill="#8e2622" />
<polygon points="405.7,94.3 411.6,94.3 413.0,93.1 407.1,93.1" fill="#c44a42" />
<polygon points="419.1,97.5 425.0,97.5 425.0,94.3 419.1,94.3" fill="#b5352e" />
<polygon points="425.0,97.5 426.4,96.3 426.4,93.1 425.0,94.3" fill="#8e2622" />
<polygon points="419.1,94.3 425.0,94.3 426.4,93.1 420.6,93.1" fill="#c44a42" />
<polygon points="432.5,97.5 438.4,97.5 438.4,81.5 432.5,81.5" fill="#cd5f3a" />
<polygon points="438.4,97.5 439.8,96.3 439.8,80.3 438.4,81.5" fill="#a5472a" />
<polygon points="432.5,81.5 438.4,81.5 439.8,80.3 433.9,80.3" fill="#d97450" />
<polygon points="445.9,97.5 451.8,97.5 451.8,94.3 445.9,94.3" fill="#b5352e" />
<polygon points="451.8,97.5 453.2,96.3 453.2,93.1 451.8,94.3" fill="#8e2622" />
<polygon points="445.9,94.3 451.8,94.3 453.2,93.1 447.3,93.1" fill="#c44a42" />
<polygon points="459.3,97.5 465.2,97.5 465.2,33.5 459.3,33.5" fill="#b5352e" />
<polygon points="465.2,97.5 466.6,96.3 466.6,32.4 465.2,33.5" fill="#8e2622" />
<polygon points="459.3,33.5 465.2,33.5 465.2,27.1 459.3,27.1" fill="#cd5f3a" />
<polygon points="465.2,33.5 466.6,32.4 466.6,26.0 465.2,27.1" fill="#a5472a" />
<polygon points="459.3,27.1 465.2,27.1 466.6,26.0 460.7,26.0" fill="#d97450" />
<polygon points="472.7,97.5 478.6,97.5 478.6,87.9 472.7,87.9" fill="#b5352e" />
<polygon points="478.6,97.5 480.0,96.3 480.0,86.8 478.6,87.9" fill="#8e2622" />
<polygon points="472.7,87.9 478.6,87.9 478.6,84.7 472.7,84.7" fill="#cd5f3a" />
<polygon points="478.6,87.9 480.0,86.8 480.0,83.5 478.6,84.7" fill="#a5472a" />
<polygon points="472.7,84.7 478.6,84.7 480.0,83.5 474.1,83.5" fill="#d97450" />
<polygon points="486.1,97.5 492.0,97.5 492.0,87.9 486.1,87.9" fill="#2f62a3" />
<polygon points="492.0,97.5 493.4,96.3 493.4,86.8 492.0,87.9" fill="#224a7e" />
<polygon points="486.1,87.9 492.0,87.9 493.4,86.8 487.6,86.8" fill="#4678b8" />
<polygon points="499.5,97.5 505.4,97.5 505.4,94.3 499.5,94.3" fill="#b5352e" />
<polygon points="505.4,97.5 506.8,96.3 506.8,93.1 505.4,94.3" fill="#8e2622" />
<polygon points="499.5,94.3 505.4,94.3 506.8,93.1 500.9,93.1" fill="#c44a42" />
<line x1="265.3" y1="16.1" x2="265.3" y2="99.6" stroke="#111" stroke-width="1.0" />
<line x1="264.8" y1="99.1" x2="507.9" y2="99.1" stroke="#111" stroke-width="1.1" />
<line x1="263.2" y1="99.1" x2="265.8" y2="99.1" stroke="#111" stroke-width="0.9" />
<line x1="263.2" y1="83.1" x2="265.8" y2="83.1" stroke="#111" stroke-width="0.9" />
<line x1="263.2" y1="67.1" x2="265.8" y2="67.1" stroke="#111" stroke-width="0.9" />
<line x1="263.2" y1="51.0" x2="265.8" y2="51.0" stroke="#111" stroke-width="0.9" />
<line x1="263.2" y1="35.0" x2="265.8" y2="35.0" stroke="#111" stroke-width="0.9" />
<line x1="263.2" y1="19.0" x2="265.8" y2="19.0" stroke="#111" stroke-width="0.9" />
<text x="255.9" y="101.0" font-size="6.9" text-anchor="start" fill="#1a1a1a" textLength="3.0" lengthAdjust="spacingAndGlyphs" >0</text>
<text x="255.9" y="85.0" font-size="6.9" text-anchor="start" fill="#1a1a1a" textLength="3.0" lengthAdjust="spacingAndGlyphs" >5</text>
<text x="252.9" y="69.0" font-size="6.9" text-anchor="start" fill="#1a1a1a" textLength="6.0" lengthAdjust="spacingAndGlyphs" >10</text>
<text x="252.9" y="52.9" font-size="6.9" text-anchor="start" fill="#1a1a1a" textLength="6.0" lengthAdjust="spacingAndGlyphs" >15</text>
<text x="252.9" y="36.9" font-size="6.9" text-anchor="start" fill="#1a1a1a" textLength="6.0" lengthAdjust="spacingAndGlyphs" >20</text>
<text x="252.9" y="20.9" font-size="6.9" text-anchor="start" fill="#1a1a1a" textLength="6.0" lengthAdjust="spacingAndGlyphs" >25</text>
<text transform="translate(245.0,58.4) rotate(-90)" font-size="9.8" text-anchor="middle" fill="#1a1a1a" textLength="76.4" lengthAdjust="spacingAndGlyphs">Number of refugees</text>
<text x="232.0" y="16.9" font-size="10.8" text-anchor="start" fill="#1a1a1a" textLength="6.5" lengthAdjust="spacingAndGlyphs" >C</text>
<rect x="287.3" y="17.1" width="4.5" height="4.5" fill="#b5352e"/>
<text x="294.7" y="21.5" font-size="6.5" text-anchor="start" fill="#1a1a1a" textLength="7.3" lengthAdjust="spacingAndGlyphs" >SS</text>
<rect x="318.7" y="17.1" width="4.5" height="4.5" fill="#cd5f3a"/>
<text x="326.0" y="21.5" font-size="6.5" text-anchor="start" fill="#1a1a1a" textLength="7.2" lengthAdjust="spacingAndGlyphs" >SC</text>
<rect x="350.5" y="17.1" width="4.5" height="4.5" fill="#eaa9a2"/>
<text x="357.7" y="21.5" font-size="6.5" text-anchor="start" fill="#1a1a1a" textLength="21.0" lengthAdjust="spacingAndGlyphs" >Sβ-thal</text>
<rect x="398.0" y="17.1" width="4.5" height="4.5" fill="#c9dcbc"/>
<text x="406.0" y="21.5" font-size="6.5" text-anchor="start" fill="#1a1a1a" textLength="7.8" lengthAdjust="spacingAndGlyphs" >AS</text>
<rect x="430.6" y="17.1" width="4.5" height="4.5" fill="#eeb08a"/>
<text x="438.6" y="21.5" font-size="6.5" text-anchor="start" fill="#1a1a1a" textLength="7.8" lengthAdjust="spacingAndGlyphs" >CC</text>
<rect x="462.9" y="17.1" width="4.5" height="4.5" fill="#2f62a3"/>
<text x="471.0" y="21.5" font-size="6.5" text-anchor="start" fill="#1a1a1a" textLength="11.0" lengthAdjust="spacingAndGlyphs" >TDT</text>
<text transform="translate(275.2,106.6) rotate(-45) scale(0.93,1)" font-size="7.0" text-anchor="end" fill="#1a1a1a">Albania</text>
<text transform="translate(288.6,106.6) rotate(-45) scale(0.93,1)" font-size="7.0" text-anchor="end" fill="#1a1a1a">Algeria</text>
<text transform="translate(302.0,106.6) rotate(-45) scale(0.93,1)" font-size="7.0" text-anchor="end" fill="#1a1a1a">Bangladesh</text>
<text transform="translate(315.4,106.6) rotate(-45) scale(0.93,1)" font-size="7.0" text-anchor="end" fill="#1a1a1a">Benin</text>
<text transform="translate(328.8,106.6) rotate(-45) scale(0.93,1)" font-size="7.0" text-anchor="end" fill="#1a1a1a">Burkina Faso</text>
<text transform="translate(342.2,106.6) rotate(-45) scale(0.93,1)" font-size="7.0" text-anchor="end" fill="#1a1a1a">Ivory Coast</text>
<text transform="translate(355.6,106.6) rotate(-45) scale(0.93,1)" font-size="7.0" text-anchor="end" fill="#1a1a1a">Cuba</text>
<text transform="translate(369.0,106.6) rotate(-45) scale(0.93,1)" font-size="7.0" text-anchor="end" fill="#1a1a1a">The Gambia</text>
<text transform="translate(382.4,106.6) rotate(-45) scale(0.93,1)" font-size="7.0" text-anchor="end" fill="#1a1a1a">Ghana</text>
<text transform="translate(395.8,106.6) rotate(-45) scale(0.93,1)" font-size="7.0" text-anchor="end" fill="#1a1a1a">Guinea</text>
<text transform="translate(409.2,106.6) rotate(-45) scale(0.93,1)" font-size="7.0" text-anchor="end" fill="#1a1a1a">Guinea-Bissau</text>
<text transform="translate(422.6,106.6) rotate(-45) scale(0.93,1)" font-size="7.0" text-anchor="end" fill="#1a1a1a">Kenya</text>
<text transform="translate(436.0,106.6) rotate(-45) scale(0.93,1)" font-size="7.0" text-anchor="end" fill="#1a1a1a">Mali</text>
<text transform="translate(449.4,106.6) rotate(-45) scale(0.93,1)" font-size="7.0" text-anchor="end" fill="#1a1a1a">Morocco</text>
<text transform="translate(462.8,106.6) rotate(-45) scale(0.93,1)" font-size="7.0" text-anchor="end" fill="#1a1a1a">Nigeria</text>
<text transform="translate(476.2,106.6) rotate(-45) scale(0.93,1)" font-size="7.0" text-anchor="end" fill="#1a1a1a">Senegal</text>
<text transform="translate(489.6,106.6) rotate(-45) scale(0.93,1)" font-size="7.0" text-anchor="end" fill="#1a1a1a">Syria</text>
<text transform="translate(503.0,106.6) rotate(-45) scale(0.93,1)" font-size="7.0" text-anchor="end" fill="#1a1a1a">Sudan</text>
<text x="356.9" y="146.7" font-size="9.0" text-anchor="start" fill="#1a1a1a" textLength="70.0" lengthAdjust="spacingAndGlyphs" >Countries of origin</text>
<text x="10.5" y="175.4" font-size="10.8" text-anchor="start" fill="#1a1a1a" textLength="5.7" lengthAdjust="spacingAndGlyphs" >B</text>
<rect x="0.7" y="0.7" width="518.5" height="353.5" fill="none" stroke="#474747" stroke-width="1.6"/>
</svg>
</body></html>
